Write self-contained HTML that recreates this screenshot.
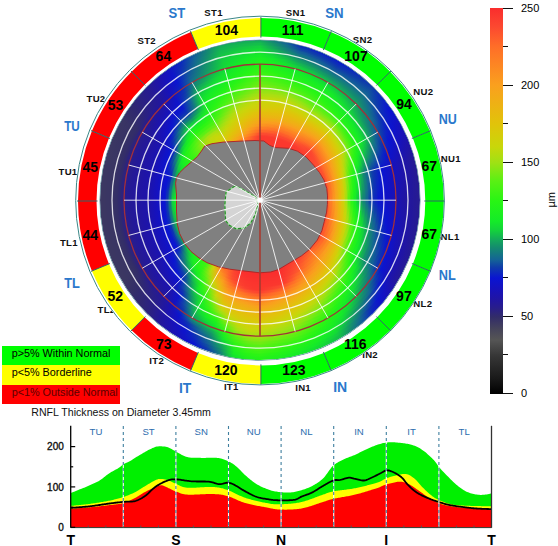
<!DOCTYPE html><html><head><meta charset="utf-8"><style>
.cs{font-size:9.6px;text-anchor:middle;fill:#2b6cae}
.ya{font-size:10px;text-anchor:end;fill:#111;stroke:#111;stroke-width:0.35}
.xa{font-size:14px;font-weight:bold;text-anchor:middle;fill:#000}

*{margin:0;padding:0;box-sizing:border-box}
html,body{width:558px;height:546px;background:#fff;overflow:hidden;position:relative;font-family:"Liberation Sans",sans-serif}
.d{position:absolute;border-radius:50%}
.ov{position:absolute;left:0;top:0}
text{font-family:"Liberation Sans",sans-serif}
.num{font-size:14px;font-weight:bold;text-anchor:middle;fill:#000}
.seg{font-size:9.6px;font-weight:bold;letter-spacing:0.3px;text-anchor:middle;fill:#111}
.sec{font-size:14px;font-weight:bold;text-anchor:middle;fill:#2a78cc}
.lg{position:absolute;left:2.4px;width:118px;font-size:10.8px;line-height:14.5px;padding-left:9.3px;color:#000}
.cb{position:absolute;left:490px;top:8px;width:13px;height:385.5px}
.tk{position:absolute;height:1px;background:#111}
.cl{position:absolute;left:521px;font-size:11px;line-height:11px;color:#000}
</style></head><body>
<div class="d" style="left:100.00px;top:40.20px;width:320.00px;height:320.00px;background:conic-gradient(#14ae57 0deg,#148575 5deg,#146297 10deg,#0d30b6 15deg,#0d2abc 20deg,#0c24c2 25deg,#0b1ec8 30deg,#0d28be 35deg,#0e33b3 40deg,#0f3fa8 45deg,#0c27bf 50deg,#0b14d0 55deg,#1213c3 60deg,#1913b4 65deg,#2015a4 70deg,#261b92 75deg,#261b92 80deg,#261b91 85deg,#261b91 90deg,#261b91 95deg,#261b92 100deg,#261b92 105deg,#251a93 110deg,#251a95 115deg,#241997 120deg,#1b13b0 125deg,#1113c6 130deg,#0c22c4 135deg,#135a9b 140deg,#148872 145deg,#14ba4e 150deg,#14cd40 155deg,#14db35 160deg,#14e72c 165deg,#17ed25 170deg,#1def1f 175deg,#22f21a 180deg,#1df01f 185deg,#14de33 190deg,#147783 195deg,#0e34b2 200deg,#0b14d1 205deg,#1512bd 210deg,#1d14ab 215deg,#251a96 220deg,#2d247c 225deg,#312a6e 230deg,#363166 235deg,#3c3862 240deg,#3c3862 245deg,#3c3862 250deg,#3c3862 255deg,#3c3862 260deg,#3c3862 265deg,#3c3862 270deg,#3c3862 275deg,#3c3862 280deg,#3c3862 285deg,#3b3762 290deg,#3a3663 295deg,#393564 300deg,#312b6b 305deg,#2c237f 310deg,#261b91 315deg,#1e14a9 320deg,#1213c3 325deg,#0c27bf 330deg,#13599b 335deg,#148278 340deg,#14ac59 345deg,#14ad58 350deg,#14ad57 355deg,#14ae57 360deg)"></div>
<div class="d" style="left:101.50px;top:41.70px;width:317.00px;height:317.00px;background:conic-gradient(#14b651 0deg,#148d6e 5deg,#146b8f 10deg,#0f39ad 15deg,#0e33b3 20deg,#0d2cba 25deg,#0c25c1 30deg,#0d2fb7 35deg,#0f39ad 40deg,#1045a6 45deg,#0d2abc 50deg,#0a14d1 55deg,#1213c4 60deg,#1813b6 65deg,#1f14a7 70deg,#251a95 75deg,#251a94 80deg,#251a94 85deg,#261b93 90deg,#251a93 95deg,#251a94 100deg,#251a95 105deg,#241997 110deg,#241999 115deg,#23189b 120deg,#1913b4 125deg,#0f13c9 130deg,#0c27bf 135deg,#146197 140deg,#148c6e 145deg,#14c049 150deg,#14d43a 155deg,#14e130 160deg,#15ec27 165deg,#1aee22 170deg,#20f11c 175deg,#25f317 180deg,#20f11c 185deg,#14e52d 190deg,#147e7c 195deg,#0f3bab 200deg,#0a17cf 205deg,#1412c0 210deg,#1c13ae 215deg,#241998 220deg,#2c237e 225deg,#302970 230deg,#353067 235deg,#3b3762 240deg,#3b3762 245deg,#3b3762 250deg,#3b3762 255deg,#3b3762 260deg,#3b3762 265deg,#3b3762 270deg,#3b3762 275deg,#3b3762 280deg,#3b3762 285deg,#3b3663 290deg,#3a3563 295deg,#393464 300deg,#312b6c 305deg,#2c2280 310deg,#261b91 315deg,#1d14ab 320deg,#1113c5 325deg,#0d2cba 330deg,#135f98 335deg,#148575 340deg,#14b055 345deg,#14b254 350deg,#14b452 355deg,#14b651 360deg)"></div>
<div class="d" style="left:103.00px;top:43.20px;width:314.00px;height:314.00px;background:conic-gradient(#14bf4a 0deg,#149568 5deg,#147288 10deg,#1046a5 15deg,#0f3caa 20deg,#0e34b2 25deg,#0d2db9 30deg,#0e36b0 35deg,#0f3fa8 40deg,#114ba2 45deg,#0d2eb8 50deg,#0a15d1 55deg,#1113c5 60deg,#1812b8 65deg,#1e14a9 70deg,#241998 75deg,#241997 80deg,#251a96 85deg,#251a95 90deg,#251a96 95deg,#241996 100deg,#241997 105deg,#23189a 110deg,#22179c 115deg,#22179e 120deg,#1812b7 125deg,#0e13cb 130deg,#0d2cba 135deg,#146793 140deg,#14926a 145deg,#14c645 150deg,#14d936 155deg,#14e82b 160deg,#18ed24 165deg,#1df01f 170deg,#22f21a 175deg,#28f514 180deg,#23f319 185deg,#15eb27 190deg,#148674 195deg,#1045a6 200deg,#0b1ec8 205deg,#1213c3 210deg,#1b13b0 215deg,#23189a 220deg,#2b2280 225deg,#302871 230deg,#352f67 235deg,#3b3762 240deg,#3b3762 245deg,#3b3762 250deg,#3b3762 255deg,#3b3762 260deg,#3b3762 265deg,#3b3762 270deg,#3b3762 275deg,#3b3762 280deg,#3b3762 285deg,#3a3663 290deg,#393563 295deg,#393464 300deg,#312a6d 305deg,#2b2281 310deg,#261b92 315deg,#1d13ac 320deg,#1013c6 325deg,#0d30b6 330deg,#146496 335deg,#148872 340deg,#14b452 345deg,#14b850 350deg,#14bb4d 355deg,#14bf4a 360deg)"></div>
<div class="d" style="left:104.50px;top:44.70px;width:311.00px;height:311.00px;background:conic-gradient(#14c744 0deg,#149d62 5deg,#147a80 10deg,#12539e 15deg,#1148a4 20deg,#0f3daa 25deg,#0e35b1 30deg,#0f3caa 35deg,#1047a5 40deg,#1251a0 45deg,#0e32b4 50deg,#0b1acc 55deg,#1013c8 60deg,#1712bb 65deg,#1d13ac 70deg,#23189b 75deg,#23189a 80deg,#241998 85deg,#241996 90deg,#241998 95deg,#241999 100deg,#23189a 105deg,#22179d 110deg,#2116a0 115deg,#2015a2 120deg,#1712ba 125deg,#0c14cf 130deg,#0e32b4 135deg,#146c8e 140deg,#149866 145deg,#14cd40 150deg,#14df32 155deg,#15ec27 160deg,#1bef21 165deg,#20f11c 170deg,#25f417 175deg,#2ef414 180deg,#26f416 185deg,#18ed24 190deg,#148e6d 195deg,#114fa0 200deg,#0c24c2 205deg,#1113c6 210deg,#1a13b3 215deg,#22179d 220deg,#2b2182 225deg,#2f2873 230deg,#342f67 235deg,#3b3662 240deg,#3b3662 245deg,#3b3662 250deg,#3b3662 255deg,#3b3662 260deg,#3b3662 265deg,#3b3662 270deg,#3b3662 275deg,#3b3662 280deg,#3b3662 285deg,#3a3563 290deg,#393464 295deg,#383364 300deg,#312a6e 305deg,#2b2281 310deg,#261b93 315deg,#1c13ad 320deg,#0f13c8 325deg,#0e34b2 330deg,#146892 335deg,#148c6e 340deg,#14b850 345deg,#14bd4c 350deg,#14c248 355deg,#14c744 360deg)"></div>
<div class="d" style="left:106.00px;top:46.20px;width:308.00px;height:308.00px;background:conic-gradient(#14d03e 0deg,#14a65d 5deg,#148278 10deg,#146198 15deg,#12559e 20deg,#1149a4 25deg,#0f3daa 30deg,#1045a5 35deg,#114ea1 40deg,#12579c 45deg,#0e37af 50deg,#0b1ec8 55deg,#0e13ca 60deg,#1512bd 65deg,#1c13ae 70deg,#22179e 75deg,#22179c 80deg,#23189a 85deg,#241998 90deg,#23189a 95deg,#23189b 100deg,#22179d 105deg,#2116a0 110deg,#2015a3 115deg,#1f14a6 120deg,#1512be 125deg,#0a16d0 130deg,#0f3caa 135deg,#147486 140deg,#14a160 145deg,#14d53a 150deg,#14e52d 155deg,#18ed24 160deg,#1ef01e 165deg,#23f319 170deg,#28f514 175deg,#35f414 180deg,#2bf514 185deg,#1aee22 190deg,#149667 195deg,#13599c 200deg,#0d2abc 205deg,#0f13c9 210deg,#1913b5 215deg,#21169f 220deg,#2a2084 225deg,#2f2775 230deg,#342e68 235deg,#3a3663 240deg,#3a3663 245deg,#3a3663 250deg,#3a3663 255deg,#3a3663 260deg,#3a3663 265deg,#3a3663 270deg,#3a3663 275deg,#3a3663 280deg,#3a3663 285deg,#393563 290deg,#393464 295deg,#383365 300deg,#30296f 305deg,#2b2182 310deg,#251a93 315deg,#1b13af 320deg,#0e13ca 325deg,#0f38ae 330deg,#146b8f 335deg,#14906c 340deg,#14bc4c 345deg,#14c348 350deg,#14c943 355deg,#14d03e 360deg)"></div>
<div class="d" style="left:107.50px;top:47.70px;width:305.00px;height:305.00px;background:conic-gradient(#14d639 0deg,#14af56 5deg,#148a70 10deg,#146b8f 15deg,#146297 20deg,#12559e 25deg,#1047a4 30deg,#114fa1 35deg,#12569d 40deg,#135d9a 45deg,#0f3bab 50deg,#0c23c3 55deg,#0d14cd 60deg,#1412c0 65deg,#1a13b1 70deg,#2116a1 75deg,#22179f 80deg,#22179c 85deg,#23189a 90deg,#22179c 95deg,#22179e 100deg,#2116a0 105deg,#2015a4 110deg,#1f14a7 115deg,#1e14a9 120deg,#1313c2 125deg,#0b1ec8 130deg,#114aa3 135deg,#147c7e 140deg,#14aa5a 145deg,#14db34 150deg,#14eb28 155deg,#1bee21 160deg,#21f11b 165deg,#26f416 170deg,#30f414 175deg,#3cf314 180deg,#32f414 185deg,#1df01f 190deg,#14a061 195deg,#146396 200deg,#0e30b6 205deg,#0e13cc 210deg,#1812b8 215deg,#2116a1 220deg,#2a1f87 225deg,#2e2677 230deg,#332d68 235deg,#3a3663 240deg,#3a3663 245deg,#3a3663 250deg,#3a3663 255deg,#3a3663 260deg,#3a3663 265deg,#3a3663 270deg,#3a3663 275deg,#3a3663 280deg,#3a3663 285deg,#393564 290deg,#383464 295deg,#373365 300deg,#302970 305deg,#2b2183 310deg,#251a94 315deg,#1b13b0 320deg,#0d13cc 325deg,#0f3daa 330deg,#146f8b 335deg,#149369 340deg,#14c04a 345deg,#14c844 350deg,#14d03e 355deg,#14d639 360deg)"></div>
<div class="d" style="left:109.00px;top:49.20px;width:302.00px;height:302.00px;background:conic-gradient(#14db35 0deg,#14b94f 5deg,#149468 10deg,#147684 15deg,#146c8e 20deg,#146197 25deg,#12529f 30deg,#12589c 35deg,#135d99 40deg,#146396 45deg,#1041a7 50deg,#0c27bf 55deg,#0b14cf 60deg,#1313c2 65deg,#1913b4 70deg,#2015a4 75deg,#2116a1 80deg,#22179e 85deg,#23189c 90deg,#22179e 95deg,#2116a1 100deg,#2015a4 105deg,#1f14a7 110deg,#1d14aa 115deg,#1c13ad 120deg,#1113c6 125deg,#0c26c0 130deg,#12579c 135deg,#148575 140deg,#14b552 145deg,#14e230 150deg,#17ec25 155deg,#1df01f 160deg,#24f318 165deg,#2af514 170deg,#37f414 175deg,#44f214 180deg,#3af314 185deg,#20f11c 190deg,#14a85b 195deg,#146a90 200deg,#0e36b0 205deg,#0c14ce 210deg,#1712bb 215deg,#2015a4 220deg,#291e89 225deg,#2e2578 230deg,#332d69 235deg,#3a3563 240deg,#3a3563 245deg,#3a3563 250deg,#3a3563 255deg,#3a3563 260deg,#3a3563 265deg,#3a3563 270deg,#3a3563 275deg,#3a3563 280deg,#3a3563 285deg,#393464 290deg,#383365 295deg,#373265 300deg,#302971 305deg,#2a2084 310deg,#251a95 315deg,#1a13b1 320deg,#0d14cd 325deg,#1043a6 330deg,#147288 335deg,#149766 340deg,#14c446 345deg,#14cd3f 350deg,#14d53a 355deg,#14db35 360deg)"></div>
<div class="d" style="left:110.50px;top:50.70px;width:299.00px;height:299.00px;background:conic-gradient(#14e031 0deg,#14c347 5deg,#149f61 10deg,#14807a 15deg,#147684 20deg,#146c8e 25deg,#146198 30deg,#146496 35deg,#146793 40deg,#146991 45deg,#1149a3 50deg,#0d2db9 55deg,#0a14d2 60deg,#1113c5 65deg,#1813b6 70deg,#1f14a7 75deg,#2015a4 80deg,#2116a1 85deg,#22179d 90deg,#2116a1 95deg,#2015a4 100deg,#1f14a7 105deg,#1d14ab 110deg,#1b13af 115deg,#1a13b2 120deg,#0e13cb 125deg,#0d30b6 130deg,#146595 135deg,#148d6d 140deg,#14bf4a 145deg,#14e82a 150deg,#19ee23 155deg,#20f11c 160deg,#27f415 165deg,#31f414 170deg,#3ef314 175deg,#4bf214 180deg,#41f214 185deg,#23f319 190deg,#14b94f 195deg,#14708a 200deg,#0f3ea9 205deg,#0a15d1 210deg,#1512be 215deg,#1f14a6 220deg,#281d8b 225deg,#2d247b 230deg,#322b6a 235deg,#383464 240deg,#383464 245deg,#383464 250deg,#383464 255deg,#383464 260deg,#383464 265deg,#383464 270deg,#383464 275deg,#383464 280deg,#383464 285deg,#383365 290deg,#373265 295deg,#363166 300deg,#2f2872 305deg,#2a2086 310deg,#251a96 315deg,#1a13b3 320deg,#0c14cf 325deg,#1048a4 330deg,#147585 335deg,#149a64 340deg,#14c744 345deg,#14d23c 350deg,#14d936 355deg,#14e031 360deg)"></div>
<div class="d" style="left:112.00px;top:52.20px;width:296.00px;height:296.00px;background:conic-gradient(#14e62c 0deg,#14ce3f 5deg,#14ab59 10deg,#148b6f 15deg,#148179 20deg,#147684 25deg,#146c8e 30deg,#146d8d 35deg,#146e8c 40deg,#146f8b 45deg,#12529f 50deg,#0e32b4 55deg,#0b18ce 60deg,#1013c7 65deg,#1712b9 70deg,#1e14aa 75deg,#1f14a6 80deg,#2015a3 85deg,#21169f 90deg,#2015a3 95deg,#1f14a7 100deg,#1d14aa 105deg,#1b13af 110deg,#1913b4 115deg,#1712b8 120deg,#0b14d0 125deg,#0f3aac 130deg,#146e8c 135deg,#149766 140deg,#14ca42 145deg,#15ec27 150deg,#1cef20 155deg,#23f219 160deg,#2cf514 165deg,#39f314 170deg,#46f214 175deg,#52f114 180deg,#49f214 185deg,#27f415 190deg,#14cb41 195deg,#147882 200deg,#114ba3 205deg,#0b1ec8 210deg,#1312c1 215deg,#1e14a8 220deg,#281d8d 225deg,#2c237d 230deg,#312a6d 235deg,#373265 240deg,#373265 245deg,#373265 250deg,#373265 255deg,#373265 260deg,#373265 265deg,#373265 270deg,#373265 275deg,#373265 280deg,#373265 285deg,#363166 290deg,#363166 295deg,#353067 300deg,#2f2775 305deg,#291f88 310deg,#241997 315deg,#1913b4 320deg,#0b14d1 325deg,#114da2 330deg,#147882 335deg,#149d62 340deg,#14ca42 345deg,#14d539 350deg,#14de33 355deg,#14e62c 360deg)"></div>
<div class="d" style="left:113.50px;top:53.70px;width:293.00px;height:293.00px;background:conic-gradient(#14eb28 0deg,#14d738 5deg,#14b850 10deg,#149866 15deg,#148b6f 20deg,#14807a 25deg,#147684 30deg,#147585 35deg,#147585 40deg,#147585 45deg,#135a9b 50deg,#0e37af 55deg,#0b1dc9 60deg,#0f13c9 65deg,#1612bc 70deg,#1d13ac 75deg,#1e14a9 80deg,#1f14a5 85deg,#2116a1 90deg,#1f14a5 95deg,#1e14a9 100deg,#1c13ad 105deg,#1a13b3 110deg,#1712b9 115deg,#1512be 120deg,#0b1acc 125deg,#1148a4 130deg,#147882 135deg,#14a25f 140deg,#14d43a 145deg,#17ed25 150deg,#1ff01d 155deg,#26f416 160deg,#35f414 165deg,#41f214 170deg,#4ef114 175deg,#5af014 180deg,#50f114 185deg,#2ef414 190deg,#14d936 195deg,#148179 200deg,#13589c 205deg,#0c27bf 210deg,#1213c4 215deg,#1d14aa 220deg,#271c8e 225deg,#2b2280 230deg,#302970 235deg,#363066 240deg,#363066 245deg,#363066 250deg,#363066 255deg,#363066 260deg,#363066 265deg,#363066 270deg,#363066 275deg,#363066 280deg,#363066 285deg,#353067 290deg,#352f67 295deg,#342f67 300deg,#2e2677 305deg,#291e8a 310deg,#241998 315deg,#1913b6 320deg,#0a14d2 325deg,#12529f 330deg,#147b7f 335deg,#14a060 340deg,#14cd40 345deg,#14d837 350deg,#14e22f 355deg,#14eb28 360deg)"></div>
<div class="d" style="left:115.00px;top:55.20px;width:290.00px;height:290.00px;background:conic-gradient(#17ec25 0deg,#14de33 5deg,#14c446 10deg,#14a45e 15deg,#149767 20deg,#148a70 25deg,#147f7b 30deg,#147e7c 35deg,#147c7e 40deg,#147b7f 45deg,#146496 50deg,#0f3ea9 55deg,#0c23c3 60deg,#0d13cc 65deg,#1512bf 70deg,#1b13af 75deg,#1d14ab 80deg,#1e14a7 85deg,#2015a3 90deg,#1e14a8 95deg,#1d13ac 100deg,#1b13b0 105deg,#1812b7 110deg,#1512bd 115deg,#1213c3 120deg,#0c24c2 125deg,#12589c 130deg,#148278 135deg,#14ae57 140deg,#14db35 145deg,#1aee22 150deg,#21f21b 155deg,#2bf514 160deg,#3ef314 165deg,#4af214 170deg,#55f014 175deg,#65ee14 180deg,#59f014 185deg,#37f314 190deg,#14e42e 195deg,#148a70 200deg,#146595 205deg,#0d2fb7 210deg,#1013c7 215deg,#1d13ac 220deg,#271c90 225deg,#2b2182 230deg,#2f2873 235deg,#342f67 240deg,#342f67 245deg,#342f67 250deg,#342f67 255deg,#342f67 260deg,#342f67 265deg,#342f67 270deg,#342f67 275deg,#342f67 280deg,#342f67 285deg,#342e68 290deg,#342e68 295deg,#332e68 300deg,#2e2579 305deg,#281d8b 310deg,#23189a 315deg,#1812b7 320deg,#0a17cf 325deg,#12569d 330deg,#147d7d 335deg,#14a35f 340deg,#14d03e 345deg,#14dc34 350deg,#14e72b 355deg,#17ec25 360deg)"></div>
<div class="d" style="left:116.50px;top:56.70px;width:287.00px;height:287.00px;background:conic-gradient(#19ee23 0deg,#14e52d 5deg,#14d03d 10deg,#14b055 15deg,#14a35f 20deg,#149668 25deg,#148971 30deg,#148674 35deg,#148476 40deg,#148179 45deg,#146a90 50deg,#1148a4 55deg,#0d2abc 60deg,#0b14d0 65deg,#1313c2 70deg,#1a13b2 75deg,#1c13ae 80deg,#1d14aa 85deg,#1f14a6 90deg,#1d14aa 95deg,#1b13af 100deg,#1a13b3 105deg,#1612bb 110deg,#1313c2 115deg,#0f13c8 120deg,#0d2fb7 125deg,#146694 130deg,#148c6e 135deg,#14ba4e 140deg,#14e22f 145deg,#1cef20 150deg,#24f318 155deg,#32f414 160deg,#46f214 165deg,#52f114 170deg,#5fef14 175deg,#71eb14 180deg,#66ed14 185deg,#41f214 190deg,#16ec26 195deg,#149568 200deg,#146e8c 205deg,#0e38ae 210deg,#0f13c9 215deg,#1c13ae 220deg,#261b92 225deg,#2a2085 230deg,#2e2676 235deg,#332d68 240deg,#332d68 245deg,#332d68 250deg,#332d68 255deg,#332d68 260deg,#332d68 265deg,#332d68 270deg,#332d68 275deg,#332d68 280deg,#332d68 285deg,#332d69 290deg,#332d69 295deg,#322d69 300deg,#2d247b 305deg,#281d8d 310deg,#23189b 315deg,#1712b9 320deg,#0b1acc 325deg,#135b9a 330deg,#14807a 335deg,#14a65d 340deg,#14d23c 345deg,#14df32 350deg,#14eb28 355deg,#19ee23 360deg)"></div>
<div class="d" style="left:118.00px;top:58.20px;width:284.00px;height:284.00px;background:conic-gradient(#1bef21 0deg,#14eb28 5deg,#14d837 10deg,#14bd4b 15deg,#14af56 20deg,#14a160 25deg,#149468 30deg,#14906c 35deg,#148b6f 40deg,#148773 45deg,#14708a 50deg,#12529f 55deg,#0e32b4 60deg,#0a17cf 65deg,#1113c5 70deg,#1913b5 75deg,#1b13b1 80deg,#1c13ad 85deg,#1e14a9 90deg,#1c13ad 95deg,#1a13b2 100deg,#1812b7 105deg,#1412bf 110deg,#1013c6 115deg,#0c14ce 120deg,#0f38ae 125deg,#146e8c 130deg,#149667 135deg,#14c546 140deg,#14e92a 145deg,#1ef01e 150deg,#27f415 155deg,#3af314 160deg,#4ff114 165deg,#5af014 170deg,#6bec14 175deg,#7ce914 180deg,#74ea14 185deg,#4cf114 190deg,#1aee22 195deg,#14a160 200deg,#147981 205deg,#114ca2 210deg,#0c14ce 215deg,#1b13b0 220deg,#251a93 225deg,#291f88 230deg,#2d247b 235deg,#312a6d 240deg,#312a6d 245deg,#312a6d 250deg,#312a6d 255deg,#312a6d 260deg,#312a6d 265deg,#312a6d 270deg,#312a6d 275deg,#312a6d 280deg,#312a6d 285deg,#312a6d 290deg,#312a6d 295deg,#312a6d 300deg,#2c237f 305deg,#271c8f 310deg,#22179c 315deg,#1712ba 320deg,#0b1dc9 325deg,#146098 330deg,#148377 335deg,#14a95b 340deg,#14d43a 345deg,#14e22f 350deg,#16ec26 355deg,#1bef21 360deg)"></div>
<div class="d" style="left:119.50px;top:59.70px;width:281.00px;height:281.00px;background:conic-gradient(#1ef01e 0deg,#17ec25 5deg,#14e031 10deg,#14ca42 15deg,#14bc4d 20deg,#14ad57 25deg,#14a061 30deg,#149a65 35deg,#149469 40deg,#148d6d 45deg,#147684 50deg,#135c9a 55deg,#0f39ad 60deg,#0b1dc9 65deg,#1013c8 70deg,#1812b8 75deg,#1913b4 80deg,#1b13af 85deg,#1d14ab 90deg,#1b13b1 95deg,#1813b6 100deg,#1612bc 105deg,#1213c3 110deg,#0e13cb 115deg,#0a16d0 120deg,#1043a6 125deg,#147684 130deg,#14a061 135deg,#14cf3e 140deg,#15ec27 145deg,#21f11b 150deg,#2cf514 155deg,#42f214 160deg,#58f014 165deg,#67ed14 170deg,#77ea14 175deg,#87e614 180deg,#82e714 185deg,#56f014 190deg,#1ef01e 195deg,#14ad58 200deg,#148872 205deg,#146892 210deg,#0a17cf 215deg,#1a13b2 220deg,#251a95 225deg,#281d8d 230deg,#2b2182 235deg,#2e2676 240deg,#2e2676 245deg,#2e2676 250deg,#2e2676 255deg,#2e2676 260deg,#2e2676 265deg,#2e2676 270deg,#2e2676 275deg,#2e2676 280deg,#2e2676 285deg,#2e2676 290deg,#2e2676 295deg,#2e2676 300deg,#2a2085 305deg,#261b93 310deg,#22179e 315deg,#1612bc 320deg,#0c20c6 325deg,#146595 330deg,#148674 335deg,#14ac58 340deg,#14d639 345deg,#14e62c 350deg,#18ed24 355deg,#1ef01e 360deg)"></div>
<div class="d" style="left:121.00px;top:61.20px;width:278.00px;height:278.00px;background:conic-gradient(#20f11c 0deg,#19ee23 5deg,#14e72b 10deg,#14d539 15deg,#14c942 20deg,#14bb4d 25deg,#14ad58 30deg,#14a55d 35deg,#149d63 40deg,#149568 45deg,#147c7e 50deg,#146595 55deg,#1042a7 60deg,#0c24c2 65deg,#0e13cb 70deg,#1612bb 75deg,#1812b7 80deg,#1a13b2 85deg,#1c13ae 90deg,#1913b4 95deg,#1712ba 100deg,#1412c0 105deg,#1013c8 110deg,#0b14d0 115deg,#0b1fc7 120deg,#1250a0 125deg,#147e7c 130deg,#14a85b 135deg,#14d738 140deg,#18ed24 145deg,#23f219 150deg,#32f414 155deg,#49f214 160deg,#63ee14 165deg,#73eb14 170deg,#83e714 175deg,#93e414 180deg,#90e414 185deg,#64ee14 190deg,#23f319 195deg,#14bf4a 200deg,#149b64 205deg,#147c7e 210deg,#0c23c3 215deg,#1913b5 220deg,#241998 225deg,#261b91 230deg,#291e89 235deg,#2c237f 240deg,#2c237f 245deg,#2c237f 250deg,#2c237f 255deg,#2c237f 260deg,#2c237f 265deg,#2c237f 270deg,#2c237f 275deg,#2c237f 280deg,#2c237f 285deg,#2c237f 290deg,#2c237f 295deg,#2c237f 300deg,#281d8d 305deg,#241997 310deg,#2015a2 315deg,#1512be 320deg,#0c25c1 325deg,#146c8e 330deg,#148b6f 335deg,#14b155 340deg,#14d837 345deg,#14e92a 350deg,#1aee22 355deg,#20f11c 360deg)"></div>
<div class="d" style="left:122.50px;top:62.70px;width:275.00px;height:275.00px;background:conic-gradient(#22f21a 0deg,#1cef20 5deg,#15ec27 10deg,#14de33 15deg,#14d53a 20deg,#14c943 25deg,#14bb4d 30deg,#14b055 35deg,#14a65d 40deg,#149c63 45deg,#148377 50deg,#146c8e 55deg,#114ca2 60deg,#0d2abc 65deg,#0c14ce 70deg,#1512be 75deg,#1712b9 80deg,#1913b5 85deg,#1b13b0 90deg,#1812b7 95deg,#1512be 100deg,#1213c3 105deg,#0d13cc 110deg,#0b19cd 115deg,#0d28be 120deg,#135d99 125deg,#148575 130deg,#14b254 135deg,#14dd33 140deg,#1aee22 145deg,#25f417 150deg,#39f314 155deg,#50f114 160deg,#6eec14 165deg,#7ee814 170deg,#8ee514 175deg,#9ee114 180deg,#9ee114 185deg,#75ea14 190deg,#29f514 195deg,#14d13d 200deg,#14ae57 205deg,#148e6d 210deg,#0d2eb8 215deg,#1712b9 220deg,#23189b 225deg,#251a95 230deg,#271c8f 235deg,#291f88 240deg,#291f88 245deg,#291f88 250deg,#291f88 255deg,#291f88 260deg,#291f88 265deg,#291f88 270deg,#291f88 275deg,#291f88 280deg,#291f88 285deg,#291f88 290deg,#291f88 295deg,#291f88 300deg,#261b92 305deg,#22179c 310deg,#1f14a6 315deg,#1412bf 320deg,#0d29bd 325deg,#147288 330deg,#14916b 335deg,#14b651 340deg,#14d936 345deg,#14eb28 350deg,#1bef21 355deg,#22f21a 360deg)"></div>
<div class="d" style="left:124.00px;top:64.20px;width:272.00px;height:272.00px;background:conic-gradient(#25f317 0deg,#1ef01e 5deg,#18ed24 10deg,#14e62c 15deg,#14dd33 20deg,#14d53a 25deg,#14ca42 30deg,#14bd4c 35deg,#14b056 40deg,#14a45e 45deg,#148971 50deg,#147288 55deg,#12569d 60deg,#0e30b6 65deg,#0b14d1 70deg,#1412c0 75deg,#1612bc 80deg,#1812b7 85deg,#1a13b3 90deg,#1712ba 95deg,#1312c1 100deg,#1013c7 105deg,#0b14d0 110deg,#0c21c5 115deg,#0e32b4 120deg,#146892 125deg,#148d6d 130deg,#14bc4c 135deg,#14e32e 140deg,#1cef20 145deg,#28f514 150deg,#3ff314 155deg,#56f014 160deg,#78ea14 165deg,#89e614 170deg,#99e214 175deg,#a7df12 180deg,#a8df12 185deg,#85e714 190deg,#35f414 195deg,#14dd34 200deg,#14bc4c 205deg,#149766 210deg,#0e35b1 215deg,#1612bc 220deg,#22179e 225deg,#241998 230deg,#261b93 235deg,#271c8e 240deg,#271c8d 245deg,#281d8d 250deg,#281d8d 255deg,#281d8d 260deg,#281d8d 265deg,#281d8d 270deg,#281d8d 275deg,#281d8d 280deg,#281d8d 285deg,#281d8d 290deg,#281d8d 295deg,#281d8d 300deg,#241997 305deg,#2116a0 310deg,#1e14a9 315deg,#1312c1 320deg,#0d2db9 325deg,#147981 330deg,#149866 335deg,#14bc4c 340deg,#14dc34 345deg,#16ec26 350deg,#1df01f 355deg,#25f317 360deg)"></div>
<div class="d" style="left:125.50px;top:65.70px;width:269.00px;height:269.00px;background:conic-gradient(#27f415 0deg,#21f11b 5deg,#1bef21 10deg,#15ec27 15deg,#14e62c 20deg,#14de33 25deg,#14d639 30deg,#14c943 35deg,#14ba4e 40deg,#14ab59 45deg,#14906b 50deg,#147882 55deg,#146098 60deg,#0e37af 65deg,#0a18ce 70deg,#1213c3 75deg,#1412bf 80deg,#1712ba 85deg,#1913b5 90deg,#1512bd 95deg,#1113c4 100deg,#0e13cb 105deg,#0b19cd 110deg,#0d2abc 115deg,#0f3bab 120deg,#14708a 125deg,#149767 130deg,#14c744 135deg,#14ea28 140deg,#1ff11d 145deg,#2ff414 150deg,#46f214 155deg,#5fef14 160deg,#82e714 165deg,#93e414 170deg,#a3e013 175deg,#aedd10 180deg,#b2dd10 185deg,#96e314 190deg,#42f214 195deg,#14e82a 200deg,#14cb42 205deg,#14a160 210deg,#0f3caa 215deg,#1412bf 220deg,#2116a1 225deg,#23189b 230deg,#241996 235deg,#261b91 240deg,#261b90 245deg,#271c90 250deg,#271c90 255deg,#271c90 260deg,#271c90 265deg,#271c90 270deg,#271c90 275deg,#271c90 280deg,#271c90 285deg,#271c90 290deg,#271c90 295deg,#271c90 300deg,#23189a 305deg,#2015a4 310deg,#1c13ac 315deg,#1213c3 320deg,#0e32b4 325deg,#147f7b 330deg,#149f61 335deg,#14c347 340deg,#14e130 345deg,#18ed24 350deg,#1ff11d 355deg,#27f415 360deg)"></div>
<div class="d" style="left:127.00px;top:67.20px;width:266.00px;height:266.00px;background:conic-gradient(#2bf514 0deg,#23f319 5deg,#1ef01e 10deg,#18ed24 15deg,#15ec27 20deg,#14e62c 25deg,#14de32 30deg,#14d43a 35deg,#14c446 40deg,#14b453 45deg,#149766 50deg,#147f7b 55deg,#146892 60deg,#0f3ea9 65deg,#0b1dc9 70deg,#1113c6 75deg,#1312c1 80deg,#1512bd 85deg,#1812b8 90deg,#1412c0 95deg,#1013c8 100deg,#0c14cf 105deg,#0c21c5 110deg,#0e33b3 115deg,#1148a4 120deg,#147981 125deg,#14a25f 130deg,#14d33b 135deg,#17ed25 140deg,#23f219 145deg,#38f314 150deg,#4ff114 155deg,#6bec14 160deg,#8ce514 165deg,#9ee214 170deg,#aade11 175deg,#b6dc0e 180deg,#bbda0d 185deg,#a5e013 190deg,#4ff114 195deg,#17ec25 200deg,#14d639 205deg,#14ab59 210deg,#1046a5 215deg,#1313c2 220deg,#2015a4 225deg,#22179e 230deg,#231899 235deg,#251a94 240deg,#251a93 245deg,#261b93 250deg,#261b92 255deg,#261b92 260deg,#261b92 265deg,#261b92 270deg,#261b92 275deg,#261b92 280deg,#261b92 285deg,#261b92 290deg,#261b92 295deg,#261b92 300deg,#22179c 305deg,#1f14a7 310deg,#1b13b0 315deg,#1113c5 320deg,#0e36b0 325deg,#148674 330deg,#14a65d 335deg,#14cb41 340deg,#14e52d 345deg,#1aee22 350deg,#21f21b 355deg,#2bf514 360deg)"></div>
<div class="d" style="left:128.50px;top:68.70px;width:263.00px;height:263.00px;background:conic-gradient(#31f414 0deg,#26f416 5deg,#21f11b 10deg,#1bef21 15deg,#18ed24 20deg,#15ec27 25deg,#14e72b 30deg,#14dc34 35deg,#14cf3e 40deg,#14bc4c 45deg,#14a060 50deg,#148773 55deg,#147288 60deg,#114ba3 65deg,#0c24c2 70deg,#0f13c8 75deg,#1213c4 80deg,#1412c0 85deg,#1612bb 90deg,#1213c3 95deg,#0e13cb 100deg,#0a16d0 105deg,#0d29bd 110deg,#0f3bab 115deg,#12559d 120deg,#148179 125deg,#14ae57 130deg,#14dc34 135deg,#1aee22 140deg,#26f416 145deg,#41f214 150deg,#57f014 155deg,#76ea14 160deg,#96e314 165deg,#a6e013 170deg,#b2dd10 175deg,#beda0d 180deg,#c3d80b 185deg,#aede11 190deg,#5cf014 195deg,#1bef21 200deg,#14df31 205deg,#14b651 210deg,#1250a0 215deg,#1113c5 220deg,#1f14a6 225deg,#2116a1 230deg,#22179c 235deg,#241997 240deg,#241996 245deg,#251a95 250deg,#251a94 255deg,#251a94 260deg,#251a94 265deg,#251a94 270deg,#251a94 275deg,#251a94 280deg,#251a94 285deg,#251a94 290deg,#251a94 295deg,#251a94 300deg,#21169f 305deg,#1d14aa 310deg,#1a13b3 315deg,#1013c7 320deg,#0f3bab 325deg,#148e6c 330deg,#14af56 335deg,#14d33c 340deg,#14e92a 345deg,#1bef21 350deg,#23f319 355deg,#31f414 360deg)"></div>
<div class="d" style="left:130.00px;top:70.20px;width:260.00px;height:260.00px;background:conic-gradient(#36f414 0deg,#29f514 5deg,#23f319 10deg,#1ef01e 15deg,#1bef21 20deg,#19ed23 25deg,#16ec26 30deg,#14e32e 35deg,#14d639 40deg,#14c446 45deg,#14aa5a 50deg,#14916a 55deg,#147c7e 60deg,#13589c 65deg,#0d2cba 70deg,#0e13cb 75deg,#1013c7 80deg,#1213c2 85deg,#1512be 90deg,#1013c7 95deg,#0c14cf 100deg,#0b1ec8 105deg,#0e31b5 110deg,#1047a5 115deg,#146197 120deg,#148a70 125deg,#14ba4e 130deg,#14e42e 135deg,#1df01f 140deg,#2cf514 145deg,#4af214 150deg,#61ee14 155deg,#81e814 160deg,#a0e114 165deg,#adde11 170deg,#b9db0e 175deg,#c5d80b 180deg,#c9d60a 185deg,#b6dc0f 190deg,#6feb14 195deg,#20f11c 200deg,#14ea29 205deg,#14c149 210deg,#135a9b 215deg,#1013c7 220deg,#1e14a9 225deg,#2015a4 230deg,#21169f 235deg,#23189a 240deg,#241999 245deg,#241998 250deg,#241997 255deg,#241997 260deg,#241997 265deg,#241997 270deg,#241997 275deg,#241997 280deg,#241997 285deg,#241997 290deg,#241997 295deg,#241997 300deg,#2015a2 305deg,#1c13ad 310deg,#1812b7 315deg,#0f13c9 320deg,#1042a7 325deg,#149966 330deg,#14b94f 335deg,#14d837 340deg,#15eb27 345deg,#1df01f 350deg,#25f417 355deg,#36f414 360deg)"></div>
<div class="d" style="left:131.50px;top:71.70px;width:257.00px;height:257.00px;background:conic-gradient(#3cf314 0deg,#30f414 5deg,#26f416 10deg,#21f21b 15deg,#1ef01e 20deg,#1cef20 25deg,#19ee23 30deg,#14eb28 35deg,#14dd33 40deg,#14ce3f 45deg,#14b452 50deg,#149d63 55deg,#148773 60deg,#146595 65deg,#0e33b3 70deg,#0c14ce 75deg,#0f13c9 80deg,#1113c5 85deg,#1312c1 90deg,#0e13ca 95deg,#0a15d1 100deg,#0c25c1 105deg,#0f38ae 110deg,#12519f 115deg,#146991 120deg,#149369 125deg,#14c645 130deg,#15eb27 135deg,#21f11b 140deg,#34f414 145deg,#53f114 150deg,#6eec14 155deg,#8ce514 160deg,#a7df12 165deg,#b4dc0f 170deg,#c0d90c 175deg,#cad50a 180deg,#ccd40a 185deg,#bed90c 190deg,#82e714 195deg,#27f415 200deg,#18ed24 205deg,#14cb41 210deg,#146496 215deg,#0e13cb 220deg,#1d14ab 225deg,#1f14a7 230deg,#2116a2 235deg,#22179c 240deg,#23189b 245deg,#23189a 250deg,#241899 255deg,#241899 260deg,#241899 265deg,#241899 270deg,#241899 275deg,#241899 280deg,#241899 285deg,#241899 290deg,#241899 295deg,#241899 300deg,#1f14a6 305deg,#1b13b1 310deg,#1612bb 315deg,#0e13cb 320deg,#114aa3 325deg,#14a35f 330deg,#14c348 335deg,#14dd33 340deg,#16ec26 345deg,#1ff01d 350deg,#27f515 355deg,#3cf314 360deg)"></div>
<div class="d" style="left:133.00px;top:73.20px;width:254.00px;height:254.00px;background:conic-gradient(#42f214 0deg,#36f414 5deg,#2af514 10deg,#24f318 15deg,#21f21b 20deg,#1ef01e 25deg,#1cef20 30deg,#17ec25 35deg,#14e52d 40deg,#14d738 45deg,#14c248 50deg,#14a95b 55deg,#149369 60deg,#146e8c 65deg,#0f3bab 70deg,#0b14d1 75deg,#0d13cc 80deg,#0f13c8 85deg,#1213c4 90deg,#0d14cd 95deg,#0b1cca 100deg,#0d2db9 105deg,#1041a7 110deg,#135c9a 115deg,#14708a 120deg,#149c63 125deg,#14d23c 130deg,#18ed24 135deg,#24f318 140deg,#3df314 145deg,#5def14 150deg,#7ae914 155deg,#97e314 160deg,#aedd10 165deg,#bbda0d 170deg,#c8d70a 175deg,#cdd30a 180deg,#cfd20a 185deg,#c7d70a 190deg,#95e314 195deg,#35f414 200deg,#1cef20 205deg,#14d53a 210deg,#146d8d 215deg,#0b14cf 220deg,#1c13ae 225deg,#1e14a9 230deg,#2015a4 235deg,#22179e 240deg,#22179d 245deg,#22179c 250deg,#23189b 255deg,#23189b 260deg,#23189b 265deg,#23189b 270deg,#23189b 275deg,#23189b 280deg,#23189b 285deg,#23189b 290deg,#23189b 295deg,#23189b 300deg,#1e14a9 305deg,#1913b4 310deg,#1412bf 315deg,#0d14cd 320deg,#12519f 325deg,#14ad58 330deg,#14cc40 335deg,#14e22f 340deg,#18ed24 345deg,#21f11b 350deg,#2cf514 355deg,#42f214 360deg)"></div>
<div class="d" style="left:134.50px;top:74.70px;width:251.00px;height:251.00px;background:conic-gradient(#48f214 0deg,#3cf314 5deg,#31f414 10deg,#27f415 15deg,#24f318 20deg,#21f21b 25deg,#1ef01e 30deg,#1aee22 35deg,#15eb27 40deg,#14e031 45deg,#14cf3e 50deg,#14b750 55deg,#14a061 60deg,#147783 65deg,#1045a5 70deg,#0a18ce 75deg,#0b14cf 80deg,#0e13cb 85deg,#1013c6 90deg,#0b14d0 95deg,#0c23c3 100deg,#0e34b2 105deg,#114ca2 110deg,#146694 115deg,#147783 120deg,#14a65d 125deg,#14d936 130deg,#1bee21 135deg,#27f515 140deg,#45f214 145deg,#6aed14 150deg,#87e614 155deg,#a2e013 160deg,#b6dc0f 165deg,#c2d80b 170deg,#cbd50a 175deg,#d0d00a 180deg,#d1cf0a 185deg,#cbd50a 190deg,#a5e013 195deg,#45f214 200deg,#21f11b 205deg,#14db34 210deg,#147684 215deg,#0a18ce 220deg,#1b13b0 225deg,#1d14ab 230deg,#1f14a6 235deg,#2116a1 240deg,#2116a0 245deg,#22179f 250deg,#22179e 255deg,#22179e 260deg,#22179e 265deg,#22179e 270deg,#22179e 275deg,#22179e 280deg,#22179e 285deg,#22179e 290deg,#22179e 295deg,#22179e 300deg,#1d14ab 305deg,#1812b8 310deg,#1213c3 315deg,#0c14cf 320deg,#13589c 325deg,#14b84f 330deg,#14d53a 335deg,#14e72b 340deg,#19ee23 345deg,#22f21a 350deg,#31f414 355deg,#48f214 360deg)"></div>
<div class="d" style="left:136.00px;top:76.20px;width:248.00px;height:248.00px;background:conic-gradient(#4ef114 0deg,#43f214 5deg,#38f314 10deg,#2df514 15deg,#27f415 20deg,#24f318 25deg,#21f21b 30deg,#1cef20 35deg,#18ed24 40deg,#14e82b 45deg,#14d937 50deg,#14c546 55deg,#14ad58 60deg,#14807a 65deg,#1251a0 70deg,#0b1ec8 75deg,#0a15d1 80deg,#0c14ce 85deg,#0f13c9 90deg,#0a16d0 95deg,#0d29bd 100deg,#0f3caa 105deg,#12579d 110deg,#146d8d 115deg,#147d7d 120deg,#14b056 125deg,#14e130 130deg,#1ef01e 135deg,#2ef414 140deg,#4ef114 145deg,#78ea14 150deg,#94e414 155deg,#abde11 160deg,#bfd90c 165deg,#cad60a 170deg,#cfd20a 175deg,#d4cd0a 180deg,#d5cd0a 185deg,#cfd20a 190deg,#b2dd10 195deg,#54f114 200deg,#25f417 205deg,#14e230 210deg,#147f7b 215deg,#0c21c5 220deg,#1a13b3 225deg,#1c13ae 230deg,#1e14a8 235deg,#2015a3 240deg,#2015a2 245deg,#2116a1 250deg,#2116a0 255deg,#21169f 260deg,#21169f 265deg,#21169f 270deg,#21169f 275deg,#21169f 280deg,#2116a0 285deg,#2116a0 290deg,#2116a0 295deg,#2116a1 300deg,#1b13af 305deg,#1612bc 310deg,#1013c7 315deg,#0b14d1 320deg,#135f98 325deg,#14c248 330deg,#14db35 335deg,#15eb27 340deg,#1cef20 345deg,#25f317 350deg,#37f414 355deg,#4ef114 360deg)"></div>
<div class="d" style="left:137.50px;top:77.70px;width:245.00px;height:245.00px;background:conic-gradient(#53f114 0deg,#49f214 5deg,#3ff314 10deg,#34f414 15deg,#2df514 20deg,#27f415 25deg,#24f318 30deg,#1ff11d 35deg,#1aee22 40deg,#16ec26 45deg,#14e130 50deg,#14d23c 55deg,#14bb4d 60deg,#148872 65deg,#135c9a 70deg,#0c24c2 75deg,#0b1bcb 80deg,#0b14d1 85deg,#0d13cc 90deg,#0b1cca 95deg,#0d30b6 100deg,#1047a5 105deg,#146297 110deg,#147387 115deg,#148476 120deg,#14ba4e 125deg,#14e92a 130deg,#21f21b 135deg,#37f414 140deg,#57f014 145deg,#85e714 150deg,#a1e114 155deg,#b5dc0f 160deg,#c8d70a 165deg,#ced30a 170deg,#d3ce0a 175deg,#d9ca0a 180deg,#d8ca0a 185deg,#d2cf0a 190deg,#bfd90c 195deg,#6aed14 200deg,#2cf514 205deg,#14e82a 210deg,#148872 215deg,#0d2abc 220deg,#1913b6 225deg,#1b13b0 230deg,#1d14ab 235deg,#1f14a5 240deg,#2015a4 245deg,#2015a3 250deg,#2016a2 255deg,#2116a1 260deg,#2116a1 265deg,#2116a1 270deg,#2116a1 275deg,#2116a1 280deg,#2016a2 285deg,#2015a2 290deg,#2015a3 295deg,#2015a4 300deg,#1a13b2 305deg,#1412bf 310deg,#0e13ca 315deg,#0a16d0 320deg,#146595 325deg,#14cb41 330deg,#14e130 335deg,#17ed25 340deg,#1ef01e 345deg,#27f515 350deg,#3df314 355deg,#53f114 360deg)"></div>
<div class="d" style="left:139.00px;top:79.20px;width:242.00px;height:242.00px;background:conic-gradient(#59f014 0deg,#4ff114 5deg,#45f214 10deg,#3cf314 15deg,#34f414 20deg,#2cf514 25deg,#26f416 30deg,#22f21a 35deg,#1df01f 40deg,#19ed23 45deg,#14e929 50deg,#14db35 55deg,#14c943 60deg,#14926a 65deg,#146694 70deg,#0d2abc 75deg,#0c21c5 80deg,#0a17cf 85deg,#0c14ce 90deg,#0c23c3 95deg,#0e38ae 100deg,#12549e 105deg,#146a90 110deg,#147a80 115deg,#148b6f 120deg,#14c744 125deg,#17ed25 130deg,#26f416 135deg,#42f214 140deg,#64ee14 145deg,#92e414 150deg,#aade11 155deg,#beda0d 160deg,#ccd40a 165deg,#d2cf0a 170deg,#d7cb0a 175deg,#ddc60a 180deg,#dbc80a 185deg,#d6cc0a 190deg,#c9d60a 195deg,#82e714 200deg,#37f414 205deg,#15ec27 210deg,#14916b 215deg,#0e34b2 220deg,#1612bb 225deg,#1913b4 230deg,#1c13ae 235deg,#1f14a7 240deg,#1f14a6 245deg,#1f14a5 250deg,#2015a4 255deg,#2015a3 260deg,#2015a3 265deg,#2015a2 270deg,#2015a3 275deg,#2015a3 280deg,#2015a4 285deg,#1f14a5 290deg,#1f14a6 295deg,#1f14a7 300deg,#1913b5 305deg,#1313c2 310deg,#0c14ce 315deg,#0b1acc 320deg,#146991 325deg,#14d33b 330deg,#14e72c 335deg,#1aee22 340deg,#21f11b 345deg,#2cf514 350deg,#43f214 355deg,#59f014 360deg)"></div>
<div class="d" style="left:140.50px;top:80.70px;width:239.00px;height:239.00px;background:conic-gradient(#61ee14 0deg,#56f014 5deg,#4cf114 10deg,#43f214 15deg,#3bf314 20deg,#33f414 25deg,#2bf514 30deg,#25f317 35deg,#20f11c 40deg,#1cef20 45deg,#17ec25 50deg,#14e42d 55deg,#14d738 60deg,#149e62 65deg,#146e8c 70deg,#0e31b5 75deg,#0c27bf 80deg,#0b1ec8 85deg,#0a14d2 90deg,#0d2abc 95deg,#1043a6 100deg,#146297 105deg,#147486 110deg,#148575 115deg,#149866 120deg,#14d639 125deg,#1bef21 130deg,#2ff414 135deg,#4cf114 140deg,#72eb14 145deg,#9fe114 150deg,#b3dc0f 155deg,#c7d70a 160deg,#d0d10a 165deg,#d6cc0a 170deg,#dbc70a 175deg,#e1c30a 180deg,#dfc50a 185deg,#d9c90a 190deg,#cfd20a 195deg,#9ae214 200deg,#42f214 205deg,#17ed25 210deg,#149d63 215deg,#1040a8 220deg,#1412c0 225deg,#1712b9 230deg,#1b13b1 235deg,#1e14a9 240deg,#1e14a8 245deg,#1f14a7 250deg,#1f14a6 255deg,#1f14a5 260deg,#2015a4 265deg,#2015a4 270deg,#2015a4 275deg,#1f14a5 280deg,#1f14a6 285deg,#1f14a7 290deg,#1e14a8 295deg,#1e14a9 300deg,#1712b9 305deg,#1013c6 310deg,#0a17cf 315deg,#0c20c6 320deg,#146e8c 325deg,#14d837 330deg,#15eb27 335deg,#1cef20 340deg,#24f318 345deg,#33f414 350deg,#49f214 355deg,#61ee14 360deg)"></div>
<div class="d" style="left:142.00px;top:82.20px;width:236.00px;height:236.00px;background:conic-gradient(#6aed14 0deg,#5def14 5deg,#54f114 10deg,#4bf114 15deg,#43f214 20deg,#3af314 25deg,#31f414 30deg,#27f515 35deg,#23f319 40deg,#1ff01d 45deg,#1aee22 50deg,#15ec27 55deg,#14e130 60deg,#14ab5a 65deg,#147684 70deg,#0e37af 75deg,#0d2db9 80deg,#0c24c2 85deg,#0b1bcb 90deg,#0e33b3 95deg,#1250a0 100deg,#146c8e 105deg,#147e7c 110deg,#14916a 115deg,#14a75c 120deg,#14e130 125deg,#20f11c 130deg,#3bf314 135deg,#57f014 140deg,#81e814 145deg,#a8df12 150deg,#bcda0d 155deg,#cbd40a 160deg,#d4ce0a 165deg,#dac90a 170deg,#e0c40a 175deg,#e4bf0c 180deg,#e2c20b 185deg,#ddc70a 190deg,#d4cd0a 195deg,#adde11 200deg,#4cf114 205deg,#1aee22 210deg,#14a85b 215deg,#1251a0 220deg,#1113c5 225deg,#1512bd 230deg,#1913b4 235deg,#1d14ab 240deg,#1d14aa 245deg,#1e14a9 250deg,#1e14a7 255deg,#1f14a7 260deg,#1f14a6 265deg,#1f14a5 270deg,#1f14a6 275deg,#1f14a7 280deg,#1e14a7 285deg,#1e14a9 290deg,#1d14aa 295deg,#1d13ac 300deg,#1612bd 305deg,#0e13cb 310deg,#0c22c4 315deg,#0c27bf 320deg,#147387 325deg,#14de33 330deg,#17ec25 335deg,#1ff01d 340deg,#26f416 345deg,#39f314 350deg,#4ff114 355deg,#6aed14 360deg)"></div>
<div class="d" style="left:143.50px;top:83.70px;width:233.00px;height:233.00px;background:conic-gradient(#71eb14 0deg,#67ed14 5deg,#5cef14 10deg,#55f114 15deg,#4bf114 20deg,#42f214 25deg,#38f314 30deg,#2df414 35deg,#26f416 40deg,#22f21a 45deg,#1df01f 50deg,#19ed23 55deg,#14eb28 60deg,#14b84f 65deg,#147e7c 70deg,#0f3ea9 75deg,#0e34b2 80deg,#0d2bbb 85deg,#0c22c4 90deg,#0f3bab 95deg,#135d99 100deg,#147684 105deg,#148971 110deg,#149f61 115deg,#14b750 120deg,#14eb28 125deg,#24f318 130deg,#47f214 135deg,#66ed14 140deg,#90e414 145deg,#b2dd10 150deg,#c5d80b 155deg,#cfd10a 160deg,#d7cb0a 165deg,#dec60a 170deg,#e3c10b 175deg,#e6bb0e 180deg,#e4bf0c 185deg,#e0c40a 190deg,#d9c90a 195deg,#bdda0d 200deg,#57f014 205deg,#1cef20 210deg,#14b551 215deg,#146198 220deg,#0f13c9 225deg,#1312c1 230deg,#1812b8 235deg,#1c13ae 240deg,#1c13ac 245deg,#1d14ab 250deg,#1e14a9 255deg,#1e14a8 260deg,#1e14a7 265deg,#1f14a6 270deg,#1e14a7 275deg,#1e14a8 280deg,#1e14a9 285deg,#1d14ab 290deg,#1c13ad 295deg,#1c13ae 300deg,#1412c0 305deg,#0b14d0 310deg,#0d2db9 315deg,#0d2eb8 320deg,#147882 325deg,#14e32e 330deg,#19ee23 335deg,#21f11b 340deg,#2af514 345deg,#3ff314 350deg,#54f114 355deg,#71eb14 360deg)"></div>
<div class="d" style="left:145.00px;top:85.20px;width:230.00px;height:230.00px;background:conic-gradient(#79e914 0deg,#71eb14 5deg,#68ed14 10deg,#60ef14 15deg,#54f114 20deg,#4af214 25deg,#40f314 30deg,#36f414 35deg,#2df514 40deg,#26f416 45deg,#21f21b 50deg,#1def1f 55deg,#18ed24 60deg,#14c844 65deg,#148971 70deg,#114ea1 75deg,#0f3fa9 80deg,#0e33b3 85deg,#0d29bd 90deg,#1046a5 95deg,#146892 100deg,#147f7b 105deg,#149468 110deg,#14ad58 115deg,#14c744 120deg,#19ed23 125deg,#2af514 130deg,#53f114 135deg,#77ea14 140deg,#9fe114 145deg,#bada0d 150deg,#cbd50a 155deg,#d3ce0a 160deg,#dbc80a 165deg,#e1c20a 170deg,#e5bd0d 175deg,#e9b810 180deg,#e6bc0e 185deg,#e2c10b 190deg,#dec50a 195deg,#cbd50a 200deg,#68ed14 205deg,#1ff11d 210deg,#14c447 215deg,#146c8e 220deg,#0c14ce 225deg,#1113c5 230deg,#1612bc 235deg,#1a13b1 240deg,#1b13af 245deg,#1c13ad 250deg,#1d14ab 255deg,#1d14aa 260deg,#1e14a9 265deg,#1e14a8 270deg,#1e14a9 275deg,#1d14aa 280deg,#1d14ab 285deg,#1c13ad 290deg,#1b13af 295deg,#1b13b1 300deg,#1213c3 305deg,#0b18ce 310deg,#0e37af 315deg,#0e35b1 320deg,#147e7c 325deg,#14e82a 330deg,#1bef21 335deg,#23f319 340deg,#31f414 345deg,#46f214 350deg,#5af014 355deg,#79e914 360deg)"></div>
<div class="d" style="left:146.50px;top:86.70px;width:227.00px;height:227.00px;background:conic-gradient(#81e814 0deg,#7be914 5deg,#74ea14 10deg,#6eec14 15deg,#5eef14 20deg,#53f114 25deg,#48f214 30deg,#40f314 35deg,#38f314 40deg,#30f414 45deg,#26f416 50deg,#21f11b 55deg,#1cef20 60deg,#14d53a 65deg,#149468 70deg,#135c9a 75deg,#114ca2 80deg,#0f3bab 85deg,#0d2fb7 90deg,#12519f 95deg,#147189 100deg,#148971 105deg,#14a160 110deg,#14bc4d 115deg,#14d539 120deg,#1def1f 125deg,#35f414 130deg,#61ee14 135deg,#88e614 140deg,#a9df12 145deg,#c4d80b 150deg,#cfd20a 155deg,#d7cb0a 160deg,#e0c40a 165deg,#e4bf0c 170deg,#e8b910 175deg,#ecb413 180deg,#e8b910 185deg,#e5bd0d 190deg,#e2c20b 195deg,#d1d00a 200deg,#7be914 205deg,#23f219 210deg,#14d33b 215deg,#147684 220deg,#0a15d1 225deg,#0f13c9 230deg,#1412bf 235deg,#1913b4 240deg,#1a13b2 245deg,#1b13af 250deg,#1c13ac 255deg,#1d14ab 260deg,#1d14aa 265deg,#1e14a9 270deg,#1d14aa 275deg,#1d14ab 280deg,#1c13ac 285deg,#1b13af 290deg,#1a13b1 295deg,#1a13b3 300deg,#1013c7 305deg,#0c21c5 310deg,#1044a6 315deg,#0f3caa 320deg,#148377 325deg,#15eb27 330deg,#1df01f 335deg,#26f416 340deg,#38f314 345deg,#4cf114 350deg,#63ee14 355deg,#81e814 360deg)"></div>
<div class="d" style="left:148.00px;top:88.20px;width:224.00px;height:224.00px;background:conic-gradient(#89e614 0deg,#85e714 5deg,#80e814 10deg,#7ce914 15deg,#6cec14 20deg,#5cf014 25deg,#51f114 30deg,#4af214 35deg,#44f214 40deg,#3ef314 45deg,#2ff414 50deg,#25f417 55deg,#20f11c 60deg,#14df32 65deg,#14a160 70deg,#146991 75deg,#13599c 80deg,#1046a5 85deg,#0e36b0 90deg,#135f99 95deg,#147c7e 100deg,#149866 105deg,#14b254 110deg,#14ce3f 115deg,#14e130 120deg,#21f21b 125deg,#41f314 130deg,#74eb14 135deg,#98e314 140deg,#b4dc0f 145deg,#cad60a 150deg,#d3ce0a 155deg,#dcc70a 160deg,#e3c00c 165deg,#e7bb0f 170deg,#ebb512 175deg,#efb015 180deg,#ebb512 185deg,#e8b910 190deg,#e5be0d 195deg,#d7cb0a 200deg,#8ce514 205deg,#27f415 210deg,#14dc34 215deg,#14807a 220deg,#0b1fc7 225deg,#0d14cd 230deg,#1213c3 235deg,#1812b7 240deg,#1913b4 245deg,#1a13b2 250deg,#1b13af 255deg,#1c13ae 260deg,#1c13ad 265deg,#1d14ac 270deg,#1c13ad 275deg,#1c13ae 280deg,#1b13af 285deg,#1a13b2 290deg,#1913b5 295deg,#1812b7 300deg,#0d13cc 305deg,#0d2db9 310deg,#135a9b 315deg,#114ea1 320deg,#148c6e 325deg,#17ec25 330deg,#20f11c 335deg,#29f514 340deg,#3ff314 345deg,#52f114 350deg,#6bec14 355deg,#89e614 360deg)"></div>
<div class="d" style="left:149.50px;top:89.70px;width:221.00px;height:221.00px;background:conic-gradient(#90e414 0deg,#8ee514 5deg,#8ce514 10deg,#8ae614 15deg,#7ae914 20deg,#6aed14 25deg,#5af014 30deg,#55f114 35deg,#50f114 40deg,#4bf214 45deg,#3cf314 50deg,#2cf514 55deg,#24f318 60deg,#14e82a 65deg,#14ae57 70deg,#147288 75deg,#146694 80deg,#12539e 85deg,#0f3fa8 90deg,#146a90 95deg,#148773 100deg,#14a85b 105deg,#14c546 110deg,#14dc34 115deg,#15ec27 120deg,#26f416 125deg,#4df114 130deg,#86e714 135deg,#a6df12 140deg,#bed90c 145deg,#ced20a 150deg,#d7cb0a 155deg,#e0c40a 160deg,#e6bc0e 165deg,#eab711 170deg,#eeb114 175deg,#f2ab18 180deg,#eeb015 185deg,#ebb512 190deg,#e7ba0f 195deg,#ddc60a 200deg,#9ee114 205deg,#2ff414 210deg,#14e62c 215deg,#148b6f 220deg,#0d2abc 225deg,#0a14d2 230deg,#1013c6 235deg,#1712ba 240deg,#1812b8 245deg,#1913b5 250deg,#1a13b3 255deg,#1a13b2 260deg,#1b13b0 265deg,#1b13af 270deg,#1b13b0 275deg,#1a13b2 280deg,#1a13b3 285deg,#1813b6 290deg,#1712ba 295deg,#1612bd 300deg,#0a15d1 305deg,#0f3ea9 310deg,#146f8b 315deg,#146793 320deg,#149b64 325deg,#19ed23 330deg,#22f21a 335deg,#2ff414 340deg,#45f214 345deg,#58f014 350deg,#74ea14 355deg,#90e414 360deg)"></div>
<div class="d" style="left:151.00px;top:91.20px;width:218.00px;height:218.00px;background:conic-gradient(#9ae214 0deg,#9ae214 5deg,#99e214 10deg,#98e314 15deg,#88e614 20deg,#77ea14 25deg,#66ed14 30deg,#61ee14 35deg,#5cf014 40deg,#58f014 45deg,#48f214 50deg,#37f414 55deg,#27f515 60deg,#16ec26 65deg,#14bc4d 70deg,#147b7f 75deg,#14708a 80deg,#146595 85deg,#12539f 90deg,#147684 95deg,#149568 100deg,#14b94e 105deg,#14d639 110deg,#14e92a 115deg,#1aee22 120deg,#2ff414 125deg,#59f014 130deg,#97e314 135deg,#b2dc0f 140deg,#c9d60a 145deg,#d3ce0a 150deg,#dcc70a 155deg,#e3c00c 160deg,#e8b910 165deg,#edb214 170deg,#f1ac17 175deg,#f6a61b 180deg,#f1ac17 185deg,#edb214 190deg,#eab611 195deg,#e2c20b 200deg,#abde11 205deg,#39f314 210deg,#16ec26 215deg,#149766 220deg,#0e35b1 225deg,#0b1dc9 230deg,#0e13ca 235deg,#1612bd 240deg,#1612bb 245deg,#1712b9 250deg,#1812b6 255deg,#1913b5 260deg,#1913b4 265deg,#1a13b3 270deg,#1913b4 275deg,#1913b5 280deg,#1812b6 285deg,#1712ba 290deg,#1512be 295deg,#1312c2 300deg,#0c22c4 305deg,#12559e 310deg,#148179 315deg,#147783 320deg,#14aa5a 325deg,#1bee21 330deg,#24f318 335deg,#35f414 340deg,#4cf114 345deg,#61ef14 350deg,#7ee814 355deg,#9ae214 360deg)"></div>
<div class="d" style="left:152.50px;top:92.70px;width:215.00px;height:215.00px;background:conic-gradient(#a4e013 0deg,#a4e013 5deg,#a4e013 10deg,#a4e013 15deg,#96e314 20deg,#85e714 25deg,#74eb14 30deg,#71eb14 35deg,#6eec14 40deg,#6bec14 45deg,#55f014 50deg,#45f214 55deg,#34f414 60deg,#1cef20 65deg,#14d23c 70deg,#148b6f 75deg,#147f7b 80deg,#147288 85deg,#146595 90deg,#148377 95deg,#14a45e 100deg,#14cb41 105deg,#14e130 110deg,#18ed24 115deg,#1ff11d 120deg,#3bf314 125deg,#6aed14 130deg,#a6e012 135deg,#bfd90c 140deg,#ced20a 145deg,#d9ca0a 150deg,#e1c30a 155deg,#e6bc0e 160deg,#ebb512 165deg,#f0ae16 170deg,#f5a81a 175deg,#f9a11d 180deg,#f5a81a 185deg,#f0ae16 190deg,#edb213 195deg,#e5bd0e 200deg,#b8db0e 205deg,#45f214 210deg,#1aee22 215deg,#14a45e 220deg,#1042a7 225deg,#0c26c0 230deg,#0c14ce 235deg,#1412bf 240deg,#1512be 245deg,#1612bc 250deg,#1712ba 255deg,#1712b9 260deg,#1812b8 265deg,#1812b6 270deg,#1812b8 275deg,#1712b9 280deg,#1712ba 285deg,#1512be 290deg,#1313c2 295deg,#1013c6 300deg,#0d2eb8 305deg,#146991 310deg,#149469 315deg,#148872 320deg,#14bb4d 325deg,#1def1f 330deg,#26f416 335deg,#3bf314 340deg,#52f114 345deg,#6cec14 350deg,#89e614 355deg,#a4e013 360deg)"></div>
<div class="d" style="left:154.00px;top:94.20px;width:212.00px;height:212.00px;background:conic-gradient(#acde11 0deg,#adde11 5deg,#adde11 10deg,#aedd10 15deg,#a2e013 20deg,#92e414 25deg,#81e814 30deg,#80e814 35deg,#80e814 40deg,#7fe814 45deg,#67ed14 50deg,#53f114 55deg,#43f214 60deg,#21f21b 65deg,#14e030 70deg,#149f61 75deg,#148e6d 80deg,#14807a 85deg,#147288 90deg,#14906b 95deg,#14b552 100deg,#14d937 105deg,#15eb27 110deg,#1cef20 115deg,#24f318 120deg,#47f214 125deg,#7ce914 130deg,#b2dc10 135deg,#c9d60a 140deg,#d3ce0a 145deg,#dec60a 150deg,#e4bf0c 155deg,#e9b810 160deg,#eeb114 165deg,#f3aa18 170deg,#f8a31c 175deg,#fb9a1f 180deg,#f8a31c 185deg,#f3aa18 190deg,#f0af16 195deg,#e9b810 200deg,#c5d80b 205deg,#50f114 210deg,#1df01f 215deg,#14b155 220deg,#12519f 225deg,#0d2fb7 230deg,#0a14d1 235deg,#1313c2 240deg,#1412c0 245deg,#1412bf 250deg,#1512be 255deg,#1612bd 260deg,#1612bb 265deg,#1712ba 270deg,#1612bb 275deg,#1612bd 280deg,#1512be 285deg,#1313c2 290deg,#1013c6 295deg,#0e13cb 300deg,#0f3bab 305deg,#147783 310deg,#14a85b 315deg,#149c63 320deg,#14cd40 325deg,#1ff01d 330deg,#29f514 335deg,#41f214 340deg,#59f014 345deg,#76ea14 350deg,#94e414 355deg,#acde11 360deg)"></div>
<div class="d" style="left:155.50px;top:95.70px;width:209.00px;height:209.00px;background:conic-gradient(#b4dc0f 0deg,#b5dc0f 5deg,#b7db0e 10deg,#b8db0e 15deg,#adde11 20deg,#a1e114 25deg,#91e414 30deg,#92e414 35deg,#93e414 40deg,#94e414 45deg,#7ce914 50deg,#65ee14 55deg,#51f114 60deg,#27f515 65deg,#15ec27 70deg,#14b452 75deg,#14a160 80deg,#148e6d 85deg,#147e7c 90deg,#14a160 95deg,#14ca42 100deg,#14e72b 105deg,#1aee22 110deg,#22f21a 115deg,#2bf514 120deg,#53f114 125deg,#8ee514 130deg,#beda0c 135deg,#ced20a 140deg,#d9ca0a 145deg,#e2c10b 150deg,#e7bb0f 155deg,#ecb413 160deg,#f1ad17 165deg,#f6a61b 170deg,#fa9e1e 175deg,#fb9420 180deg,#fa9d1f 185deg,#f7a41c 190deg,#f3aa18 195deg,#ecb313 200deg,#ccd40a 205deg,#5def14 210deg,#21f21b 215deg,#14c446 220deg,#146b8f 225deg,#1040a8 230deg,#0b1dc9 235deg,#1113c5 240deg,#1213c3 245deg,#1313c2 250deg,#1312c1 255deg,#1412c0 260deg,#1512bf 265deg,#1512be 270deg,#1512bf 275deg,#1412c0 280deg,#1312c1 285deg,#1113c6 290deg,#0e13cb 295deg,#0b14d0 300deg,#114ba2 305deg,#148575 310deg,#14c04a 315deg,#14b353 320deg,#14db35 325deg,#21f11b 330deg,#2ff414 335deg,#48f214 340deg,#64ee14 345deg,#82e714 350deg,#a0e114 355deg,#b4dc0f 360deg)"></div>
<div class="d" style="left:157.00px;top:97.20px;width:206.00px;height:206.00px;background:conic-gradient(#bcda0d 0deg,#beda0d 5deg,#c0d90c 10deg,#c2d90c 15deg,#b7db0e 20deg,#acde11 25deg,#a2e014 30deg,#a3e013 35deg,#a4e013 40deg,#a5e013 45deg,#91e414 50deg,#7ae914 55deg,#63ee14 60deg,#34f414 65deg,#1bee21 70deg,#14cb41 75deg,#14b453 80deg,#149e62 85deg,#148a70 90deg,#14b353 95deg,#14db35 100deg,#18ed24 105deg,#20f11c 110deg,#28f514 115deg,#3bf314 120deg,#66ed14 125deg,#a1e114 130deg,#c9d60a 135deg,#d3ce0a 140deg,#dec50a 145deg,#e5bd0e 150deg,#eab612 155deg,#efaf16 160deg,#f4a819 165deg,#faa11e 170deg,#fb9620 175deg,#fc8c22 180deg,#fb9420 185deg,#fa9d1f 190deg,#f7a41c 195deg,#f0ae16 200deg,#d2cf0a 205deg,#71eb14 210deg,#26f416 215deg,#14d639 220deg,#14807a 225deg,#13599c 230deg,#0d29bd 235deg,#1013c7 240deg,#1013c6 245deg,#1113c5 250deg,#1213c4 255deg,#1213c3 260deg,#1313c2 265deg,#1312c1 270deg,#1313c2 275deg,#1213c3 280deg,#1213c4 285deg,#0f13c9 290deg,#0c14cf 295deg,#0b18ce 300deg,#135d9a 305deg,#149568 310deg,#14d53a 315deg,#14cc41 320deg,#14e62c 325deg,#23f219 330deg,#35f414 335deg,#4ff114 340deg,#70eb14 345deg,#8ee514 350deg,#a8df12 355deg,#bcda0d 360deg)"></div>
<div class="d" style="left:158.50px;top:98.70px;width:203.00px;height:203.00px;background:conic-gradient(#c4d80b 0deg,#c6d70a 5deg,#c8d70a 10deg,#c9d60a 15deg,#c1d90c 20deg,#b8db0e 25deg,#aede10 30deg,#b0dd10 35deg,#b1dd10 40deg,#b3dc0f 45deg,#a4e013 50deg,#90e514 55deg,#7ae914 60deg,#42f214 65deg,#20f11c 70deg,#14dc34 75deg,#14ca42 80deg,#14b254 85deg,#149c63 90deg,#14c943 95deg,#14ea29 100deg,#1ef01e 105deg,#26f416 110deg,#37f414 115deg,#4bf214 120deg,#7ce914 125deg,#afdd10 130deg,#ced20a 135deg,#d8ca0a 140deg,#e2c10b 145deg,#e9b810 150deg,#eeb114 155deg,#f4a919 160deg,#f9a11d 165deg,#fb9820 170deg,#fc8d22 175deg,#fd8324 180deg,#fc8b22 185deg,#fb9520 190deg,#fa9f1e 195deg,#f3a919 200deg,#d8ca0a 205deg,#86e614 210deg,#2ef414 215deg,#14e22f 220deg,#149667 225deg,#146c8e 230deg,#0e34b2 235deg,#0e13ca 240deg,#0f13c9 245deg,#0f13c8 250deg,#1013c7 255deg,#1113c6 260deg,#1113c5 265deg,#1213c4 270deg,#1113c5 275deg,#1113c6 280deg,#1013c7 285deg,#0d14cd 290deg,#0a16d0 295deg,#0c21c5 300deg,#146a90 305deg,#14a65d 310deg,#14e42e 315deg,#14dd33 320deg,#17ec25 325deg,#25f317 330deg,#3bf314 335deg,#56f014 340deg,#7de914 345deg,#9ae214 350deg,#b0dd10 355deg,#c4d80b 360deg)"></div>
<div class="d" style="left:160.00px;top:100.20px;width:200.00px;height:200.00px;background:conic-gradient(#c9d60a 0deg,#cbd50a 5deg,#ccd40a 10deg,#cdd30a 15deg,#cad60a 20deg,#c3d80b 25deg,#bada0e 30deg,#bcda0d 35deg,#bfd90c 40deg,#c1d90c 45deg,#b2dc0f 50deg,#a4e013 55deg,#90e414 60deg,#51f114 65deg,#26f416 70deg,#15eb27 75deg,#14dd34 80deg,#14ca42 85deg,#14b055 90deg,#14db35 95deg,#19ed23 100deg,#24f318 105deg,#32f414 110deg,#46f214 115deg,#5bf014 120deg,#93e414 125deg,#bdda0d 130deg,#d3ce0a 135deg,#dec50a 140deg,#e5bd0e 145deg,#ecb413 150deg,#f2ac17 155deg,#f8a31c 160deg,#fb991f 165deg,#fc8f21 170deg,#fd8523 175deg,#fe7b25 180deg,#fd8324 185deg,#fc8c22 190deg,#fb9720 195deg,#f7a41c 200deg,#dec60a 205deg,#9ce214 210deg,#3af314 215deg,#15ec27 220deg,#14ae57 225deg,#147b7f 230deg,#1040a8 235deg,#0d14cd 240deg,#0d14cd 245deg,#0d13cc 250deg,#0e13cb 255deg,#0e13ca 260deg,#0f13c9 265deg,#1013c8 270deg,#0f13c8 275deg,#0f13c9 280deg,#0e13ca 285deg,#0a14d2 290deg,#0c23c3 295deg,#0e32b4 300deg,#147a80 305deg,#14ba4e 310deg,#16ec26 315deg,#14eb28 320deg,#1bee21 325deg,#27f415 330deg,#41f214 335deg,#5fef14 340deg,#89e614 345deg,#a4e013 350deg,#b7db0e 355deg,#c9d60a 360deg)"></div>
<div class="d" style="left:161.50px;top:101.70px;width:197.00px;height:197.00px;background:conic-gradient(#ccd40a 0deg,#ced30a 5deg,#cfd10a 10deg,#d1d00a 15deg,#ced20a 20deg,#cad50a 25deg,#c6d80a 30deg,#c8d70a 35deg,#cad60a 40deg,#cbd50a 45deg,#c0d90c 50deg,#b2dc0f 55deg,#a4e013 60deg,#64ee14 65deg,#35f414 70deg,#1cef20 75deg,#15ec27 80deg,#14dc34 85deg,#14c645 90deg,#14e92a 95deg,#1ef01e 100deg,#2cf514 105deg,#41f214 110deg,#56f014 115deg,#73eb14 120deg,#a7df12 125deg,#cad50a 130deg,#dac90a 135deg,#e3c10b 140deg,#e9b810 145deg,#efb015 150deg,#f5a71a 155deg,#fa9c1f 160deg,#fc8f21 165deg,#fd8623 170deg,#fe7c25 175deg,#ff7227 180deg,#fe7a26 185deg,#fd8324 190deg,#fc9021 195deg,#fa9f1e 200deg,#e3c00c 205deg,#acde11 210deg,#45f214 215deg,#1aee22 220deg,#14c943 225deg,#148a70 230deg,#1150a0 235deg,#0b14d0 240deg,#0b14d0 245deg,#0b14d0 250deg,#0b14d1 255deg,#0b14cf 260deg,#0c14ce 265deg,#0d14cc 270deg,#0d14cd 275deg,#0d14cd 280deg,#0d14cd 285deg,#0c20c6 290deg,#0e36b0 295deg,#12529f 300deg,#148e6d 305deg,#14d13c 310deg,#1bee21 315deg,#1aee22 320deg,#1ff11d 325deg,#2af514 330deg,#47f214 335deg,#69ed14 340deg,#95e314 345deg,#abde11 350deg,#bed90c 355deg,#ccd40a 360deg)"></div>
<div class="d" style="left:163.00px;top:103.20px;width:194.00px;height:194.00px;background:conic-gradient(#ced20a 0deg,#d0d00a 5deg,#d3ce0a 10deg,#d5cd0a 15deg,#d2cf0a 20deg,#cfd10a 25deg,#ccd40a 30deg,#ced20a 35deg,#cfd10a 40deg,#d1d00a 45deg,#cbd50a 50deg,#c1d90c 55deg,#b3dc0f 60deg,#7ce914 65deg,#46f214 70deg,#23f219 75deg,#1cef20 80deg,#14eb28 85deg,#14d837 90deg,#19ed23 95deg,#25f317 100deg,#3df314 105deg,#52f114 110deg,#6dec14 115deg,#8ce514 120deg,#b7db0e 125deg,#d0d00a 130deg,#e0c40a 135deg,#e6bc0e 140deg,#ecb313 145deg,#f2ab18 150deg,#f9a11d 155deg,#fb9420 160deg,#fd8623 165deg,#fe7c25 170deg,#ff7327 175deg,#fe6729 180deg,#ff7127 185deg,#fe7b25 190deg,#fc8823 195deg,#fb9720 200deg,#e7bb0e 205deg,#bcda0d 210deg,#51f114 215deg,#1ef01e 220deg,#14dd33 225deg,#149b64 230deg,#135f98 235deg,#0a15d1 240deg,#0a17cf 245deg,#0b19cd 250deg,#0b1bcb 255deg,#0b18ce 260deg,#0a15d1 265deg,#0a14d1 270deg,#0b14d1 275deg,#0b14d0 280deg,#0b14cf 285deg,#0d2cba 290deg,#114ea1 295deg,#146f8b 300deg,#14a65d 305deg,#14e031 310deg,#20f11c 315deg,#1ff01d 320deg,#23f319 325deg,#2ff414 330deg,#4df114 335deg,#74ea14 340deg,#a1e114 345deg,#b3dc0f 350deg,#c5d80b 355deg,#ced20a 360deg)"></div>
<div class="d" style="left:164.50px;top:104.70px;width:191.00px;height:191.00px;background:conic-gradient(#d1d00a 0deg,#d3ce0a 5deg,#d6cc0a 10deg,#d9ca0a 15deg,#d6cc0a 20deg,#d4ce0a 25deg,#d1d00a 30deg,#d3ce0a 35deg,#d5cd0a 40deg,#d6cb0a 45deg,#d1d00a 50deg,#cbd40a 55deg,#c3d80b 60deg,#94e414 65deg,#57f014 70deg,#2df414 75deg,#23f319 80deg,#1cef20 85deg,#15eb27 90deg,#21f11b 95deg,#34f414 100deg,#51f114 105deg,#6aed14 110deg,#88e614 115deg,#a4e013 120deg,#c8d70a 125deg,#d7cb0a 130deg,#e4bf0c 135deg,#eab711 140deg,#efaf16 145deg,#f5a71a 150deg,#fb9b1f 155deg,#fc8c22 160deg,#fe7d25 165deg,#fe7327 170deg,#ff6829 175deg,#fd5b2c 180deg,#fe652a 185deg,#ff7227 190deg,#fd8024 195deg,#fc9021 200deg,#eab612 205deg,#c9d60a 210deg,#5def14 215deg,#23f219 220deg,#15eb27 225deg,#14ae57 230deg,#146c8e 235deg,#0b1dc9 240deg,#0b20c6 245deg,#0c22c4 250deg,#0c25c1 255deg,#0c23c3 260deg,#0c20c6 265deg,#0b1ec8 270deg,#0b1bcb 275deg,#0a17cf 280deg,#0a14d2 285deg,#0f3aac 290deg,#146a90 295deg,#148a70 300deg,#14c446 305deg,#16ec26 310deg,#24f318 315deg,#24f318 320deg,#28f514 325deg,#35f414 330deg,#54f114 335deg,#7fe814 340deg,#a9df12 345deg,#bbda0d 350deg,#cad60a 355deg,#d1d00a 360deg)"></div>
<div class="d" style="left:166.00px;top:106.20px;width:188.00px;height:188.00px;background:conic-gradient(#d3ce0a 0deg,#d6cc0a 5deg,#d9c90a 10deg,#ddc70a 15deg,#dbc80a 20deg,#d9c90a 25deg,#d7cb0a 30deg,#d9c90a 35deg,#dbc80a 40deg,#ddc60a 45deg,#d8ca0a 50deg,#d2cf0a 55deg,#cdd30a 60deg,#a9df12 65deg,#6feb14 70deg,#3ff314 75deg,#2ff414 80deg,#24f318 85deg,#1df01f 90deg,#2bf514 95deg,#48f214 100deg,#6bec14 105deg,#89e614 110deg,#a5e013 115deg,#bada0d 120deg,#d0d00a 125deg,#dec50a 130deg,#e8b910 135deg,#edb214 140deg,#f3aa18 145deg,#f8a21d 150deg,#fb9321 155deg,#fd8324 160deg,#fe7327 165deg,#ff6929 170deg,#fe5c2c 175deg,#fd4e2f 180deg,#fd572d 185deg,#fe652a 190deg,#fe7726 195deg,#fc8823 200deg,#efb015 205deg,#d1d00a 210deg,#6eec14 215deg,#26f416 220deg,#1bee21 225deg,#14c744 230deg,#147e7c 235deg,#0e32b4 240deg,#0e31b5 245deg,#0d30b6 250deg,#0d2fb7 255deg,#0e32b4 260deg,#0e35b1 265deg,#0e38ae 270deg,#0d2db9 275deg,#0c23c3 280deg,#0b19cd 285deg,#114ca2 290deg,#147e7c 295deg,#14ac58 300deg,#14dd33 305deg,#1cef20 310deg,#2af514 315deg,#29f514 320deg,#31f414 325deg,#3ff314 330deg,#5eef14 335deg,#8ce514 340deg,#b1dd10 345deg,#c2d90c 350deg,#ccd40a 355deg,#d3ce0a 360deg)"></div>
<div class="d" style="left:167.50px;top:107.70px;width:185.00px;height:185.00px;background:conic-gradient(#d8cb0a 0deg,#dbc80a 5deg,#ddc60a 10deg,#e0c40a 15deg,#dfc40a 20deg,#dec50a 25deg,#ddc60a 30deg,#dfc40a 35deg,#e1c30a 40deg,#e3c10b 45deg,#dec50a 50deg,#d9ca0a 55deg,#d3ce0a 60deg,#bada0d 65deg,#8ae614 70deg,#52f114 75deg,#42f214 80deg,#33f414 85deg,#26f416 90deg,#3ff314 95deg,#5def14 100deg,#89e614 105deg,#a6e013 110deg,#bbda0d 115deg,#ccd40a 120deg,#d9ca0a 125deg,#e4bf0c 130deg,#ecb412 135deg,#f1ad17 140deg,#f6a51b 145deg,#fa9d1f 150deg,#fc8c22 155deg,#fe7b25 160deg,#ff6829 165deg,#fe5b2c 170deg,#fd4f2f 175deg,#fc432f 180deg,#fc4930 185deg,#fd572d 190deg,#ff6e28 195deg,#fd8124 200deg,#f3aa18 205deg,#d9c90a 210deg,#7ee814 215deg,#2df514 220deg,#20f11c 225deg,#14da35 230deg,#14916a 235deg,#114aa3 240deg,#114ea1 245deg,#1251a0 250deg,#12549e 255deg,#12569d 260deg,#12589c 265deg,#135a9b 270deg,#114da1 275deg,#1041a8 280deg,#0e36b0 285deg,#146f8b 290deg,#149b64 295deg,#14d13d 300deg,#16ec26 305deg,#22f21a 310deg,#36f414 315deg,#34f414 320deg,#3cf314 325deg,#49f214 330deg,#6cec14 335deg,#98e314 340deg,#b9db0e 345deg,#c9d60a 350deg,#d0d00a 355deg,#d8cb0a 360deg)"></div>
<div class="d" style="left:169.00px;top:109.20px;width:182.00px;height:182.00px;background:conic-gradient(#dcc70a 0deg,#dfc50a 5deg,#e1c30a 10deg,#e3c00c 15deg,#e3c10b 20deg,#e2c10b 25deg,#e2c20b 30deg,#e4bf0c 35deg,#e5bd0d 40deg,#e7bb0f 45deg,#e3c00c 50deg,#e0c40a 55deg,#dac90a 60deg,#cad50a 65deg,#a7df12 70deg,#73eb14 75deg,#5af014 80deg,#49f214 85deg,#38f314 90deg,#54f114 95deg,#7ce914 100deg,#a5e013 105deg,#bbda0d 110deg,#ccd40a 115deg,#d5cd0a 120deg,#e1c30a 125deg,#e8b910 130deg,#efaf16 135deg,#f4a81a 140deg,#f9a11e 145deg,#fb9720 150deg,#fd8523 155deg,#ff7327 160deg,#fd5a2c 165deg,#fc4e2f 170deg,#fc432f 175deg,#fb3a2e 180deg,#fb3f2f 185deg,#fc4930 190deg,#fe602b 195deg,#fe7926 200deg,#f7a41c 205deg,#e1c30a 210deg,#8ee514 215deg,#33f414 220deg,#23f319 225deg,#14e52d 230deg,#14a45e 235deg,#146694 240deg,#146c8e 245deg,#147288 250deg,#147882 255deg,#147a80 260deg,#147c7e 265deg,#147e7c 270deg,#147684 275deg,#146d8d 280deg,#146496 285deg,#148b6f 290deg,#14bd4c 295deg,#14e62c 300deg,#1def1f 305deg,#28f514 310deg,#43f214 315deg,#40f314 320deg,#46f214 325deg,#53f114 330deg,#7ae914 335deg,#a3e013 340deg,#c1d90c 345deg,#cdd30a 350deg,#d4cd0a 355deg,#dcc70a 360deg)"></div>
<div class="d" style="left:170.50px;top:110.70px;width:179.00px;height:179.00px;background:conic-gradient(#e1c30a 0deg,#e2c10b 5deg,#e4bf0c 10deg,#e5bd0d 15deg,#e5bd0d 20deg,#e5bd0d 25deg,#e5bd0e 30deg,#e7ba0f 35deg,#e9b810 40deg,#ebb512 45deg,#e8ba0f 50deg,#e4bf0d 55deg,#e1c30a 60deg,#d2cf0a 65deg,#bdda0d 70deg,#97e314 75deg,#80e814 80deg,#68ed14 85deg,#53f114 90deg,#78ea14 95deg,#9fe114 100deg,#bbda0d 105deg,#ccd40a 110deg,#d5cd0a 115deg,#dec50a 120deg,#e6bc0e 125deg,#ecb313 130deg,#f2aa18 135deg,#f8a31c 140deg,#fb9a1f 145deg,#fc9021 150deg,#fe7d25 155deg,#ff6829 160deg,#fc4d2f 165deg,#fc4530 170deg,#fb3e2f 175deg,#fb372e 180deg,#fb382e 185deg,#fb3f2f 190deg,#fd522e 195deg,#ff7227 200deg,#fa9d1f 205deg,#e6bd0e 210deg,#9fe114 215deg,#38f314 220deg,#23f319 225deg,#15eb27 230deg,#14bd4c 235deg,#148476 240deg,#148a70 245deg,#14916b 250deg,#149866 255deg,#14a061 260deg,#14a75c 265deg,#14af56 270deg,#149e62 275deg,#148e6d 280deg,#14807a 285deg,#14ac59 290deg,#14da36 295deg,#19ee23 300deg,#24f318 305deg,#37f314 310deg,#51f114 315deg,#4bf114 320deg,#50f114 325deg,#5eef14 330deg,#87e614 335deg,#acde11 340deg,#c8d70a 345deg,#d0d00a 350deg,#d9ca0a 355deg,#e1c30a 360deg)"></div>
<div class="d" style="left:172.00px;top:112.20px;width:176.00px;height:176.00px;background:conic-gradient(#e4bf0c 0deg,#e5bd0d 5deg,#e6bc0e 10deg,#e8ba0f 15deg,#e8b910 20deg,#e8b910 25deg,#e9b810 30deg,#ebb512 35deg,#edb214 40deg,#efb015 45deg,#ecb412 50deg,#e8b910 55deg,#e5be0d 60deg,#dac80a 65deg,#cdd30a 70deg,#b3dc0f 75deg,#a4e013 80deg,#91e414 85deg,#7ce914 90deg,#a0e114 95deg,#b8db0e 100deg,#ccd40a 105deg,#d5cc0a 110deg,#dec50a 115deg,#e5bd0d 120deg,#ebb612 125deg,#f0ae16 130deg,#f6a61a 135deg,#fa9e1e 140deg,#fb9321 145deg,#fc8823 150deg,#fe7527 155deg,#fe5b2c 160deg,#fb412f 165deg,#fb3e2f 170deg,#fb3a2e 175deg,#fb372e 180deg,#fb372e 185deg,#fb3b2f 190deg,#fc4530 195deg,#ff6929 200deg,#fb9520 205deg,#eab611 210deg,#aade11 215deg,#3cf314 220deg,#23f319 225deg,#18ed24 230deg,#14d738 235deg,#14a85b 240deg,#14ae57 245deg,#14b353 250deg,#14b94f 255deg,#14c347 260deg,#14ce3f 265deg,#14d639 270deg,#14c149 275deg,#14aa5a 280deg,#149667 285deg,#14c645 290deg,#14e929 295deg,#1ff01d 300deg,#2bf514 305deg,#44f214 310deg,#60ef14 315deg,#59f014 320deg,#5fef14 325deg,#6dec14 330deg,#95e314 335deg,#b4dc0f 340deg,#cbd40a 345deg,#d4cd0a 350deg,#ddc60a 355deg,#e4bf0c 360deg)"></div>
<div class="d" style="left:173.50px;top:113.70px;width:173.00px;height:173.00px;background:conic-gradient(#e7bb0e 0deg,#e8ba0f 5deg,#e9b810 10deg,#eab711 15deg,#ebb512 20deg,#ebb412 25deg,#ecb313 30deg,#efb015 35deg,#f1ad17 40deg,#f3aa18 45deg,#f0af16 50deg,#ecb313 55deg,#e9b810 60deg,#e2c20b 65deg,#d6cc0a 70deg,#cad60a 75deg,#bfd90c 80deg,#b2dc0f 85deg,#a5e013 90deg,#bbda0d 95deg,#ccd40a 100deg,#d5cc0a 105deg,#dfc50a 110deg,#e5bd0d 115deg,#ebb512 120deg,#efaf15 125deg,#f4a919 130deg,#f8a21d 135deg,#fb9820 140deg,#fc8c22 145deg,#fd8124 150deg,#ff6d28 155deg,#fd502e 160deg,#fb382e 165deg,#fb372e 170deg,#fb362e 175deg,#fb362e 180deg,#fb362e 185deg,#fb392e 190deg,#fc422f 195deg,#fe5e2b 200deg,#fc8c22 205deg,#f0ae16 210deg,#b6db0e 215deg,#40f314 220deg,#23f319 225deg,#1bee21 230deg,#14e52c 235deg,#14cb41 240deg,#14cf3e 245deg,#14d33b 250deg,#14d53a 255deg,#14db35 260deg,#14e031 265deg,#14e52d 270deg,#14d738 275deg,#14c248 280deg,#14aa5a 285deg,#14d638 290deg,#17ed25 295deg,#22f21a 300deg,#34f414 305deg,#50f114 310deg,#73eb14 315deg,#72eb14 320deg,#75ea14 325deg,#7be914 330deg,#a2e114 335deg,#bdda0d 340deg,#cfd20a 345deg,#d8ca0a 350deg,#e1c30a 355deg,#e7bb0e 360deg)"></div>
<div class="d" style="left:175.00px;top:115.20px;width:170.00px;height:170.00px;background:conic-gradient(#eab711 0deg,#ebb612 5deg,#ebb512 10deg,#ecb313 15deg,#edb214 20deg,#efb015 25deg,#f0ae16 30deg,#f2ab18 35deg,#f5a71a 40deg,#f7a41c 45deg,#f4a819 50deg,#f1ad16 55deg,#edb214 60deg,#e7bb0f 65deg,#dfc40a 70deg,#d4cd0a 75deg,#d0d10a 80deg,#cbd50a 85deg,#c3d80b 90deg,#ced20a 95deg,#d6cc0a 100deg,#dfc50a 105deg,#e5bd0d 110deg,#ebb512 115deg,#f0ae16 120deg,#f4a819 125deg,#f8a31c 130deg,#fa9d1f 135deg,#fb9121 140deg,#fd8523 145deg,#fe7926 150deg,#fe652a 155deg,#fc4b2f 160deg,#fb372e 165deg,#fb362e 170deg,#fb352e 175deg,#fb352e 180deg,#fb352e 185deg,#fb382e 190deg,#fb3f2f 195deg,#fd532e 200deg,#fd8224 205deg,#f5a71a 210deg,#bed90c 215deg,#40f314 220deg,#23f319 225deg,#1bee21 230deg,#14e52c 235deg,#14cb41 240deg,#14d738 245deg,#14df31 250deg,#14e82a 255deg,#14eb28 260deg,#16ec26 265deg,#18ed24 270deg,#14e130 275deg,#14cb41 280deg,#14ac59 285deg,#14da36 290deg,#1aee22 295deg,#25f417 300deg,#3cf314 305deg,#57f014 310deg,#7fe814 315deg,#89e614 320deg,#8ce514 325deg,#8ae614 330deg,#acde11 335deg,#c6d80a 340deg,#d2cf0a 345deg,#dcc70a 350deg,#e4bf0c 355deg,#eab711 360deg)"></div>
<div class="d" style="left:176.50px;top:116.70px;width:167.00px;height:167.00px;background:conic-gradient(#edb214 0deg,#eeb114 5deg,#eeb015 10deg,#efb015 15deg,#f0ae16 20deg,#f2ac17 25deg,#f3a919 30deg,#f6a51b 35deg,#f9a11d 40deg,#fa9c1f 45deg,#f9a21d 50deg,#f5a71a 55deg,#f2ac17 60deg,#ecb413 65deg,#e6bc0e 70deg,#dfc40a 75deg,#dbc80a 80deg,#d6cb0a 85deg,#d2cf0a 90deg,#d9c90a 95deg,#e1c30a 100deg,#e5bd0d 105deg,#ebb512 110deg,#f0ae16 115deg,#f6a61b 120deg,#f9a21d 125deg,#fa9d1f 130deg,#fb9720 135deg,#fc8b22 140deg,#fd7e25 145deg,#ff7227 150deg,#fe5d2c 155deg,#fc4730 160deg,#fb352e 165deg,#fb352e 170deg,#fb342e 175deg,#fa342e 180deg,#fb342e 185deg,#fb372e 190deg,#fb3d2f 195deg,#fd4e2f 200deg,#fe7b25 205deg,#fa9e1e 210deg,#c7d70a 215deg,#40f314 220deg,#23f319 225deg,#1bee21 230deg,#14e52c 235deg,#14cb41 240deg,#14d838 245deg,#14e130 250deg,#14eb28 255deg,#16ec26 260deg,#17ed25 265deg,#19ed23 270deg,#14e42e 275deg,#14ce3f 280deg,#14ad57 285deg,#14dd33 290deg,#1bef21 295deg,#28f514 300deg,#43f214 305deg,#61ee14 310deg,#8be614 315deg,#a0e114 320deg,#a2e114 325deg,#99e314 330deg,#b5dc0f 335deg,#cbd50a 340deg,#d6cc0a 345deg,#e0c30a 350deg,#e7bb0f 355deg,#edb214 360deg)"></div>
<div class="d" style="left:178.00px;top:118.20px;width:164.00px;height:164.00px;background:conic-gradient(#f1ad16 0deg,#f2ac17 5deg,#f3aa18 10deg,#f4a919 15deg,#f5a71a 20deg,#f6a61b 25deg,#f7a41c 30deg,#fa9f1e 35deg,#fb991f 40deg,#fb9321 45deg,#fb9a1f 50deg,#faa01e 55deg,#f6a51b 60deg,#f1ad17 65deg,#ecb413 70deg,#e6bc0e 75deg,#e4bf0c 80deg,#e1c30a 85deg,#ddc60a 90deg,#e3c10b 95deg,#e7bb0f 100deg,#ebb512 105deg,#f1ad16 110deg,#f6a61b 115deg,#fa9d1f 120deg,#fb991f 125deg,#fb9520 130deg,#fc9121 135deg,#fd8424 140deg,#fe7726 145deg,#ff6929 150deg,#fd552d 155deg,#fc432f 160deg,#fb342e 165deg,#fa342e 170deg,#fa332e 175deg,#fa332e 180deg,#fa332e 185deg,#fb352e 190deg,#fb3b2f 195deg,#fc4c2f 200deg,#fe7527 205deg,#fb9321 210deg,#cbd50a 215deg,#40f314 220deg,#23f319 225deg,#1bee21 230deg,#14e52c 235deg,#14cb41 240deg,#14d838 245deg,#14e130 250deg,#14eb28 255deg,#16ec26 260deg,#17ed25 265deg,#19ee23 270deg,#14e52d 275deg,#14cf3e 280deg,#14af56 285deg,#14de33 290deg,#1cef20 295deg,#28f514 300deg,#46f214 305deg,#69ed14 310deg,#96e314 315deg,#b0dd10 320deg,#b1dd10 325deg,#a5e013 330deg,#bfd90c 335deg,#cfd10a 340deg,#dac90a 345deg,#e3c00c 350deg,#eab611 355deg,#f1ad16 360deg)"></div>
<div class="d" style="left:179.50px;top:119.70px;width:161.00px;height:161.00px;background:conic-gradient(#f4a819 0deg,#f6a61a 5deg,#f7a41c 10deg,#f8a21d 15deg,#f9a11e 20deg,#fa9f1e 25deg,#fa9e1e 30deg,#fb9720 35deg,#fc9021 40deg,#fc8923 45deg,#fc9021 50deg,#fb9720 55deg,#fa9e1e 60deg,#f6a51b 65deg,#f1ac17 70deg,#edb213 75deg,#eab611 80deg,#e8ba0f 85deg,#e5bd0d 90deg,#e9b810 95deg,#edb214 100deg,#f1ad17 105deg,#f6a51b 110deg,#fa9c1f 115deg,#fb9221 120deg,#fc8f21 125deg,#fc8d22 130deg,#fc8b22 135deg,#fd7e25 140deg,#ff7127 145deg,#fe5f2b 150deg,#fc4e2f 155deg,#fb402f 160deg,#fa332e 165deg,#fa332e 170deg,#fa322e 175deg,#fa322e 180deg,#fa322e 185deg,#fa342e 190deg,#fb392e 195deg,#fc4930 200deg,#ff6e28 205deg,#fc8823 210deg,#cfd20a 215deg,#40f314 220deg,#23f319 225deg,#1bee21 230deg,#14e52c 235deg,#14cb41 240deg,#14d838 245deg,#14e130 250deg,#14eb28 255deg,#16ec26 260deg,#18ed24 265deg,#19ee23 270deg,#14e52d 275deg,#14d13d 280deg,#14b155 285deg,#14df32 290deg,#1cef20 295deg,#28f514 300deg,#48f214 305deg,#6feb14 310deg,#a0e114 315deg,#bdda0d 320deg,#bfd90c 325deg,#afdd10 330deg,#c8d70a 335deg,#d3ce0a 340deg,#ddc60a 345deg,#e6bc0e 350deg,#edb214 355deg,#f4a819 360deg)"></div>
<div class="d" style="left:181.00px;top:121.20px;width:158.00px;height:158.00px;background:conic-gradient(#f8a31c 0deg,#f9a11e 5deg,#fa9d1f 10deg,#fb991f 15deg,#fb9820 20deg,#fb9720 25deg,#fb9520 30deg,#fc8e22 35deg,#fc8723 40deg,#fd8024 45deg,#fc8723 50deg,#fc8e22 55deg,#fb9620 60deg,#fa9e1e 65deg,#f7a41c 70deg,#f3aa19 75deg,#f1ad16 80deg,#eeb114 85deg,#ebb412 90deg,#efaf15 95deg,#f3aa18 100deg,#f7a41c 105deg,#fa9b1f 110deg,#fc9121 115deg,#fd8623 120deg,#fd8623 125deg,#fd8523 130deg,#fd8424 135deg,#fe7826 140deg,#ff6c28 145deg,#fd5a2c 150deg,#fc4a2f 155deg,#fb3e2f 160deg,#fa322e 165deg,#fa312d 170deg,#fa312d 175deg,#fa312d 180deg,#fa312d 185deg,#fa322e 190deg,#fb362e 195deg,#fc4730 200deg,#ff6929 205deg,#fd8224 210deg,#d0d00a 215deg,#40f314 220deg,#23f319 225deg,#1bee21 230deg,#14e52c 235deg,#14cb41 240deg,#14d838 245deg,#14e130 250deg,#14eb28 255deg,#16ec26 260deg,#18ed24 265deg,#1aee22 270deg,#14e62c 275deg,#14d23c 280deg,#14b254 285deg,#14df31 290deg,#1cef20 295deg,#28f514 300deg,#48f214 305deg,#6feb14 310deg,#a0e114 315deg,#beda0d 320deg,#c3d80b 325deg,#b9db0e 330deg,#ccd40a 335deg,#d7cb0a 340deg,#e1c30a 345deg,#e9b810 350deg,#f0ae16 355deg,#f8a31c 360deg)"></div>
<div class="d" style="left:182.50px;top:122.70px;width:155.00px;height:155.00px;background:conic-gradient(#fa9e1e 0deg,#fb991f 5deg,#fb9420 10deg,#fc9021 15deg,#fc8f21 20deg,#fc8e22 25deg,#fc8d22 30deg,#fd8623 35deg,#fd7e25 40deg,#fe7726 45deg,#fd7e25 50deg,#fd8523 55deg,#fc8c22 60deg,#fb9321 65deg,#fb9a1f 70deg,#faa01e 75deg,#f7a41c 80deg,#f4a81a 85deg,#f2ac17 90deg,#f6a61a 95deg,#f9a11d 100deg,#fb9a1f 105deg,#fc9021 110deg,#fd8523 115deg,#fe7b25 120deg,#fe7c25 125deg,#fe7d25 130deg,#fd7e25 135deg,#ff7327 140deg,#fe662a 145deg,#fd562d 150deg,#fc4730 155deg,#fb3c2f 160deg,#fa302d 165deg,#fa302d 170deg,#fa302d 175deg,#fa302d 180deg,#fa302d 185deg,#fa312d 190deg,#fb342e 195deg,#fc4530 200deg,#fe6729 205deg,#fd8224 210deg,#d0d00a 215deg,#40f314 220deg,#23f319 225deg,#1bee21 230deg,#14e52c 235deg,#14cb41 240deg,#14d838 245deg,#14e130 250deg,#14eb28 255deg,#16ec26 260deg,#18ed24 265deg,#1aee22 270deg,#14e72b 275deg,#14d33b 280deg,#14b453 285deg,#14e031 290deg,#1cef20 295deg,#28f514 300deg,#48f214 305deg,#6feb14 310deg,#a0e114 315deg,#bed90c 320deg,#c8d70a 325deg,#c3d80b 330deg,#d0d00a 335deg,#dbc80a 340deg,#e3c00c 345deg,#ebb512 350deg,#f3aa18 355deg,#fa9e1e 360deg)"></div>
<div class="d" style="left:184.00px;top:124.20px;width:152.00px;height:152.00px;background:conic-gradient(#fb9720 0deg,#fb9121 5deg,#fc8c22 10deg,#fd8623 15deg,#fd8623 20deg,#fd8523 25deg,#fd8523 30deg,#fd7d25 35deg,#fe7626 40deg,#ff6e28 45deg,#fe7527 50deg,#fe7c25 55deg,#fd8424 60deg,#fc8923 65deg,#fc8e22 70deg,#fb9420 75deg,#fb991f 80deg,#fa9e1e 85deg,#f8a31c 90deg,#fa9c1f 95deg,#fb9520 100deg,#fc8e22 105deg,#fd8424 110deg,#fe7a26 115deg,#ff7028 120deg,#ff7227 125deg,#fe7527 130deg,#fe7726 135deg,#ff6d28 140deg,#fe5f2b 145deg,#fd522e 150deg,#fc4530 155deg,#fb3a2e 160deg,#fa2f2d 165deg,#fa2f2d 170deg,#fa2f2d 175deg,#fa2f2d 180deg,#fa2f2d 185deg,#fa302d 190deg,#fa322e 195deg,#fc4430 200deg,#fe672a 205deg,#fd8224 210deg,#d0d00a 215deg,#40f314 220deg,#23f319 225deg,#1bee21 230deg,#14e52c 235deg,#14cb41 240deg,#14d838 245deg,#14e130 250deg,#14eb28 255deg,#16ec26 260deg,#18ed24 265deg,#1aee22 270deg,#14e82b 275deg,#14d43a 280deg,#14b651 285deg,#14e130 290deg,#1cef20 295deg,#28f514 300deg,#48f214 305deg,#6feb14 310deg,#a0e114 315deg,#bfd90c 320deg,#cad60a 325deg,#cad50a 330deg,#d4cd0a 335deg,#dec50a 340deg,#e6bd0e 345deg,#eeb114 350deg,#f6a51b 355deg,#fb9720 360deg)"></div>
<div class="d" style="left:185.50px;top:125.70px;width:149.00px;height:149.00px;background:conic-gradient(#fc8c22 0deg,#fc8723 5deg,#fd8224 10deg,#fe7c25 15deg,#fe7c25 20deg,#fe7c25 25deg,#fe7d25 30deg,#fe7527 35deg,#ff6d28 40deg,#fe612b 45deg,#ff6c28 50deg,#fe7427 55deg,#fe7b25 60deg,#fd7f25 65deg,#fd8324 70deg,#fc8723 75deg,#fc8c22 80deg,#fb9221 85deg,#fb9720 90deg,#fc9121 95deg,#fc8a22 100deg,#fd8324 105deg,#fe7a26 110deg,#ff7227 115deg,#fe672a 120deg,#ff6a29 125deg,#ff6e28 130deg,#ff7028 135deg,#fe652a 140deg,#fd592c 145deg,#fc4d2f 150deg,#fc422f 155deg,#fb382e 160deg,#fa2e2d 165deg,#fa2e2d 170deg,#fa2e2d 175deg,#fa2e2d 180deg,#fa2e2d 185deg,#fa2f2d 190deg,#fa322e 195deg,#fc4430 200deg,#fe672a 205deg,#fd8224 210deg,#d0d00a 215deg,#40f314 220deg,#23f319 225deg,#1bee21 230deg,#14e52c 235deg,#14cb41 240deg,#14d838 245deg,#14e130 250deg,#14eb28 255deg,#16ec26 260deg,#18ed24 265deg,#1aee22 270deg,#14e82a 275deg,#14d53a 280deg,#14b750 285deg,#14e130 290deg,#1cef20 295deg,#28f514 300deg,#48f214 305deg,#6feb14 310deg,#a0e114 315deg,#c0d90c 320deg,#ccd40a 325deg,#ced20a 330deg,#d9ca0a 335deg,#e2c10b 340deg,#e9b810 345deg,#f2ac17 350deg,#fa9e1e 355deg,#fc8c22 360deg)"></div>
<div class="d" style="left:187.00px;top:127.20px;width:146.00px;height:146.00px;background:conic-gradient(#fd8124 0deg,#fe7c25 5deg,#fe7726 10deg,#ff7327 15deg,#fe7327 20deg,#fe7427 25deg,#fe7427 30deg,#ff6c28 35deg,#fe602b 40deg,#fd552d 45deg,#fe5f2b 50deg,#ff6a29 55deg,#ff7227 60deg,#fe7527 65deg,#fe7826 70deg,#fe7a26 75deg,#fd8024 80deg,#fd8523 85deg,#fc8b22 90deg,#fd8523 95deg,#fd7e25 100deg,#fe7826 105deg,#ff7127 110deg,#ff6829 115deg,#fe5e2b 120deg,#fe612b 125deg,#fe642a 130deg,#fe6829 135deg,#fe5d2c 140deg,#fd532e 145deg,#fc4930 150deg,#fb3f2f 155deg,#fb362e 160deg,#fa2d2d 165deg,#fa2d2d 170deg,#fa2d2d 175deg,#fa2d2d 180deg,#fa2d2d 185deg,#fa2e2d 190deg,#fa322e 195deg,#fc4430 200deg,#fe672a 205deg,#fd8224 210deg,#d0d00a 215deg,#40f314 220deg,#23f319 225deg,#1bee21 230deg,#14e52c 235deg,#14cb41 240deg,#14d838 245deg,#14e130 250deg,#14eb28 255deg,#16ec26 260deg,#18ed24 265deg,#1aee22 270deg,#14e92a 275deg,#14d639 280deg,#14b94f 285deg,#14e22f 290deg,#1cef20 295deg,#28f514 300deg,#48f214 305deg,#6feb14 310deg,#a0e114 315deg,#c1d90c 320deg,#ced30a 325deg,#d2cf0a 330deg,#ddc60a 335deg,#e5bd0d 340deg,#ecb413 345deg,#f6a61b 350deg,#fb9520 355deg,#fd8124 360deg)"></div>
<div class="d" style="left:188.50px;top:128.70px;width:143.00px;height:143.00px;background:conic-gradient(#fe7527 0deg,#ff7127 5deg,#ff6d28 10deg,#fe662a 15deg,#ff6829 20deg,#ff6a29 25deg,#ff6b29 30deg,#fe602b 35deg,#fd542d 40deg,#fc4830 45deg,#fd532e 50deg,#fe5d2c 55deg,#ff6829 60deg,#ff6a29 65deg,#ff6d28 70deg,#ff6f28 75deg,#fe7427 80deg,#fe7926 85deg,#fd7e25 90deg,#fe7926 95deg,#fe7327 100deg,#ff6d28 105deg,#fe652a 110deg,#fe5d2c 115deg,#fd552d 120deg,#fd582d 125deg,#fe5c2c 130deg,#fe5f2b 135deg,#fd562d 140deg,#fc4d2f 145deg,#fc4530 150deg,#fb3d2f 155deg,#fb352e 160deg,#fa2d2d 165deg,#fa2d2d 170deg,#fa2d2d 175deg,#fa2d2d 180deg,#fa2d2d 185deg,#fa2e2d 190deg,#fa322e 195deg,#fc4430 200deg,#fe672a 205deg,#fd8224 210deg,#d0d00a 215deg,#40f314 220deg,#23f319 225deg,#1bee21 230deg,#14e52c 235deg,#14cb41 240deg,#14d838 245deg,#14e130 250deg,#14eb28 255deg,#16ec26 260deg,#18ed24 265deg,#1bee21 270deg,#14ea29 275deg,#14d738 280deg,#14ba4e 285deg,#14e32f 290deg,#1cef20 295deg,#28f514 300deg,#48f214 305deg,#6feb14 310deg,#a0e114 315deg,#c2d90c 320deg,#cfd10a 325deg,#d7cb0a 330deg,#e2c20a 335deg,#e8b910 340deg,#efaf15 345deg,#faa01e 350deg,#fc8b22 355deg,#fe7527 360deg)"></div>
<div class="d" style="left:190.00px;top:130.20px;width:140.00px;height:140.00px;background:conic-gradient(#ff6829 0deg,#fe642a 5deg,#fe5f2b 10deg,#fd5b2c 15deg,#fe5c2c 20deg,#fe5e2b 25deg,#fe5f2b 30deg,#fd552d 35deg,#fc4b2f 40deg,#fc432f 45deg,#fc4a30 50deg,#fd532e 55deg,#fe5b2c 60deg,#fe5c2c 65deg,#fe5d2b 70deg,#fe5e2b 75deg,#fe662a 80deg,#ff6d28 85deg,#ff7227 90deg,#ff6d28 95deg,#fe652a 100deg,#fe5e2b 105deg,#fd592c 110deg,#fd552d 115deg,#fd512e 120deg,#fd552d 125deg,#fd592c 130deg,#fe5e2b 135deg,#fd552d 140deg,#fc4b2f 145deg,#fc4430 150deg,#fb3c2f 155deg,#fb342e 160deg,#fa2d2d 165deg,#fa2d2d 170deg,#fa2d2d 175deg,#fa2d2d 180deg,#fa2d2d 185deg,#fa2e2d 190deg,#fa322e 195deg,#fc4430 200deg,#fe672a 205deg,#fd8224 210deg,#d0d00a 215deg,#40f314 220deg,#23f319 225deg,#1bee21 230deg,#14e52c 235deg,#14cb41 240deg,#14d838 245deg,#14e130 250deg,#14eb28 255deg,#16ec26 260deg,#19ed23 265deg,#1bee21 270deg,#14eb28 275deg,#14d738 280deg,#14bc4c 285deg,#14e32e 290deg,#1def1f 295deg,#28f514 300deg,#48f214 305deg,#6feb14 310deg,#a0e114 315deg,#c3d80b 320deg,#d1cf0a 325deg,#dbc80a 330deg,#e4be0d 335deg,#ebb412 340deg,#f2ab18 345deg,#fb9820 350deg,#fd8124 355deg,#ff6829 360deg)"></div>
<div class="d" style="left:191.50px;top:131.70px;width:137.00px;height:137.00px;background:conic-gradient(#fd592c 0deg,#fd562d 5deg,#fd542e 10deg,#fd512e 15deg,#fd522e 20deg,#fd522e 25deg,#fd532e 30deg,#fc4c2f 35deg,#fc4730 40deg,#fc422f 45deg,#fc4630 50deg,#fc4b2f 55deg,#fd502e 60deg,#fd502e 65deg,#fd502e 70deg,#fd502e 75deg,#fd572d 80deg,#fe5d2b 85deg,#fe642a 90deg,#fe5e2b 95deg,#fd572d 100deg,#fd512e 105deg,#fd512e 110deg,#fd512e 115deg,#fd512e 120deg,#fd552d 125deg,#fd592d 130deg,#fe5c2c 135deg,#fd542e 140deg,#fc4b2f 145deg,#fc4430 150deg,#fb3c2f 155deg,#fb342e 160deg,#fa2d2d 165deg,#fa2d2d 170deg,#fa2d2d 175deg,#fa2d2d 180deg,#fa2d2d 185deg,#fa2e2d 190deg,#fa322e 195deg,#fc4430 200deg,#fe672a 205deg,#fd8224 210deg,#d0d00a 215deg,#40f314 220deg,#23f319 225deg,#1bee21 230deg,#14e52c 235deg,#14cb41 240deg,#14d838 245deg,#14e130 250deg,#14eb28 255deg,#16ec26 260deg,#19ed23 265deg,#1bef21 270deg,#14eb28 275deg,#14d837 280deg,#14be4b 285deg,#14e42e 290deg,#1def1f 295deg,#28f514 300deg,#48f214 305deg,#6feb14 310deg,#a0e114 315deg,#c4d80b 320deg,#d4ce0a 325deg,#e0c40a 330deg,#e8ba0f 335deg,#efb015 340deg,#f6a61b 345deg,#fc9021 350deg,#fe7826 355deg,#fd592c 360deg)"></div>
<div class="d" style="left:193.00px;top:133.20px;width:134.00px;height:134.00px;background:conic-gradient(#fc4a30 0deg,#fc4930 5deg,#fc4930 10deg,#fc4830 15deg,#fc4730 20deg,#fc4730 25deg,#fc4730 30deg,#fc4530 35deg,#fc432f 40deg,#fb412f 45deg,#fc4530 50deg,#fc4930 55deg,#fd4f2f 60deg,#fd4f2f 65deg,#fd4f2f 70deg,#fd4f2f 75deg,#fd502e 80deg,#fd522e 85deg,#fd542e 90deg,#fd532e 95deg,#fd522e 100deg,#fd512e 105deg,#fd512e 110deg,#fd512e 115deg,#fd512e 120deg,#fd542d 125deg,#fd582d 130deg,#fe5b2c 135deg,#fd532e 140deg,#fc4a2f 145deg,#fc4430 150deg,#fb3c2f 155deg,#fb342e 160deg,#fa2d2d 165deg,#fa2d2d 170deg,#fa2d2d 175deg,#fa2d2d 180deg,#fa2d2d 185deg,#fa2e2d 190deg,#fa322e 195deg,#fc4430 200deg,#fe672a 205deg,#fd8224 210deg,#d0d00a 215deg,#40f314 220deg,#23f319 225deg,#1bee21 230deg,#14e52c 235deg,#14cb41 240deg,#14d838 245deg,#14e130 250deg,#14eb28 255deg,#16ec26 260deg,#19ed23 265deg,#1bef21 270deg,#14eb28 275deg,#14d936 280deg,#14bf4a 285deg,#14e52d 290deg,#1def1f 295deg,#28f514 300deg,#48f214 305deg,#6feb14 310deg,#a0e114 315deg,#c4d80b 320deg,#d6cc0a 325deg,#e4c00c 330deg,#ecb413 335deg,#f4a819 340deg,#fa9b1f 345deg,#fd8424 350deg,#ff6c28 355deg,#fc4a30 360deg)"></div>
<div class="d" style="left:194.50px;top:134.70px;width:131.00px;height:131.00px;background:conic-gradient(#fb3e2f 0deg,#fb3f2f 5deg,#fb402f 10deg,#fb412f 15deg,#fb3f2f 20deg,#fb3e2f 25deg,#fb3d2f 30deg,#fb3e2f 35deg,#fb3f2f 40deg,#fb402f 45deg,#fc4430 50deg,#fc4830 55deg,#fc4d2f 60deg,#fc4d2f 65deg,#fc4d2f 70deg,#fc4d2f 75deg,#fc4e2f 80deg,#fd4e2f 85deg,#fd4f2f 90deg,#fd502e 95deg,#fd502e 100deg,#fd512e 105deg,#fd512e 110deg,#fd512e 115deg,#fd512e 120deg,#fd542e 125deg,#fd572d 130deg,#fd5a2c 135deg,#fd522e 140deg,#fc4a30 145deg,#fc4430 150deg,#fb3c2f 155deg,#fb342e 160deg,#fa2d2d 165deg,#fa2d2d 170deg,#fa2d2d 175deg,#fa2d2d 180deg,#fa2d2d 185deg,#fa2e2d 190deg,#fa322e 195deg,#fc4430 200deg,#fe672a 205deg,#fd8224 210deg,#d0d00a 215deg,#40f314 220deg,#23f319 225deg,#1bee21 230deg,#14e52c 235deg,#14cb41 240deg,#14d838 245deg,#14e130 250deg,#14eb28 255deg,#17ec25 260deg,#19ee23 265deg,#1cef20 270deg,#15eb27 275deg,#14da36 280deg,#14c149 285deg,#14e52d 290deg,#1def1f 295deg,#28f514 300deg,#48f214 305deg,#6feb14 310deg,#a0e114 315deg,#c5d80b 320deg,#d8ca0a 325deg,#e6bb0e 330deg,#f0ae16 335deg,#f9a11d 340deg,#fc8f21 345deg,#fe7826 350deg,#fe5c2c 355deg,#fb3e2f 360deg)"></div>
<div class="d" style="left:196.00px;top:136.20px;width:128.00px;height:128.00px;background:conic-gradient(#fb382e 0deg,#fb392e 5deg,#fb392e 10deg,#fb392e 15deg,#fb392e 20deg,#fb392e 25deg,#fb382e 30deg,#fb3a2e 35deg,#fb3c2f 40deg,#fb3e2f 45deg,#fc432f 50deg,#fc4730 55deg,#fc4b2f 60deg,#fc4b2f 65deg,#fc4b2f 70deg,#fc4b2f 75deg,#fc4c2f 80deg,#fc4d2f 85deg,#fc4d2f 90deg,#fc4e2f 95deg,#fd502e 100deg,#fd512e 105deg,#fd512e 110deg,#fd512e 115deg,#fd512e 120deg,#fd532e 125deg,#fd562d 130deg,#fd582d 135deg,#fd512e 140deg,#fc4a30 145deg,#fc4430 150deg,#fb3c2f 155deg,#fb342e 160deg,#fa2d2d 165deg,#fa2d2d 170deg,#fa2d2d 175deg,#fa2d2d 180deg,#fa2d2d 185deg,#fa2e2d 190deg,#fa322e 195deg,#fc4430 200deg,#fe672a 205deg,#fd8224 210deg,#d0d00a 215deg,#40f314 220deg,#23f319 225deg,#1bee21 230deg,#14e52c 235deg,#14cb41 240deg,#14d838 245deg,#14e130 250deg,#14eb28 255deg,#17ec25 260deg,#19ee23 265deg,#1cef20 270deg,#15ec27 275deg,#14db35 280deg,#14c248 285deg,#14e62c 290deg,#1df01f 295deg,#28f514 300deg,#48f214 305deg,#6feb14 310deg,#a0e114 315deg,#c6d70a 320deg,#dac80a 325deg,#eab711 330deg,#f4a819 335deg,#fb9720 340deg,#fd8224 345deg,#ff6e28 350deg,#fd512e 355deg,#fb382e 360deg)"></div>
<div class="d" style="left:197.50px;top:137.70px;width:125.00px;height:125.00px;background:conic-gradient(#fb382e 0deg,#fb382e 5deg,#fb382e 10deg,#fb382e 15deg,#fb382e 20deg,#fb382e 25deg,#fb382e 30deg,#fb3a2e 35deg,#fb3c2f 40deg,#fb3d2f 45deg,#fc412f 50deg,#fc4530 55deg,#fc4a30 60deg,#fc4a30 65deg,#fc4a30 70deg,#fc4a30 75deg,#fc4a30 80deg,#fc4b2f 85deg,#fc4b2f 90deg,#fc4d2f 95deg,#fd4f2f 100deg,#fd512e 105deg,#fd512e 110deg,#fd512e 115deg,#fd512e 120deg,#fd532e 125deg,#fd552d 130deg,#fd572d 135deg,#fd502e 140deg,#fc4930 145deg,#fc4430 150deg,#fb3c2f 155deg,#fb342e 160deg,#fa2d2d 165deg,#fa2d2d 170deg,#fa2d2d 175deg,#fa2d2d 180deg,#fa2d2d 185deg,#fa2e2d 190deg,#fa322e 195deg,#fc4430 200deg,#fe672a 205deg,#fd8224 210deg,#d0d00a 215deg,#40f314 220deg,#23f319 225deg,#1bee21 230deg,#14e52c 235deg,#14cb41 240deg,#14d838 245deg,#14e130 250deg,#14eb28 255deg,#17ec25 260deg,#19ee23 265deg,#1cef20 270deg,#15ec27 275deg,#14dc34 280deg,#14c446 285deg,#14e72c 290deg,#1df01f 295deg,#28f514 300deg,#48f214 305deg,#6feb14 310deg,#a0e114 315deg,#c7d70a 320deg,#dcc70a 325deg,#ecb313 330deg,#f8a31c 335deg,#fc8e22 340deg,#fe7826 345deg,#fe642a 350deg,#fc4c2f 355deg,#fb382e 360deg)"></div>
<div class="d" style="left:199.00px;top:139.20px;width:122.00px;height:122.00px;background:conic-gradient(#fb382e 0deg,#fb382e 5deg,#fb382e 10deg,#fb382e 15deg,#fb382e 20deg,#fb382e 25deg,#fb382e 30deg,#fb3a2e 35deg,#fb3b2f 40deg,#fb3c2f 45deg,#fb402f 50deg,#fc4430 55deg,#fc4830 60deg,#fc4830 65deg,#fc4830 70deg,#fc4830 75deg,#fc4830 80deg,#fc4930 85deg,#fc4930 90deg,#fc4c2f 95deg,#fc4e2f 100deg,#fd512e 105deg,#fd512e 110deg,#fd512e 115deg,#fd512e 120deg,#fd522e 125deg,#fd542d 130deg,#fd562d 135deg,#fd4f2f 140deg,#fc4930 145deg,#fc4430 150deg,#fb3c2f 155deg,#fb342e 160deg,#fa2d2d 165deg,#fa2d2d 170deg,#fa2d2d 175deg,#fa2d2d 180deg,#fa2d2d 185deg,#fa2e2d 190deg,#fa322e 195deg,#fc4430 200deg,#fe672a 205deg,#fd8224 210deg,#d0d00a 215deg,#40f314 220deg,#23f319 225deg,#1bee21 230deg,#14e52c 235deg,#14cb41 240deg,#14d838 245deg,#14e130 250deg,#14eb28 255deg,#17ec25 260deg,#1aee22 265deg,#1cef20 270deg,#16ec26 275deg,#14dd33 280deg,#14c645 285deg,#14e72b 290deg,#1df01f 295deg,#28f514 300deg,#48f214 305deg,#6feb14 310deg,#a0e114 315deg,#c8d70a 320deg,#dfc50a 325deg,#f0af16 330deg,#faa01e 335deg,#fc8c22 340deg,#fe7826 345deg,#fe642a 350deg,#fc4c2f 355deg,#fb382e 360deg)"></div>
<div class="d" style="left:200.50px;top:140.70px;width:119.00px;height:119.00px;background:conic-gradient(#fb382e 0deg,#fb382e 5deg,#fb382e 10deg,#fb382e 15deg,#fb382e 20deg,#fb382e 25deg,#fb382e 30deg,#fb392e 35deg,#fb3a2e 40deg,#fb3b2f 45deg,#fb3f2f 50deg,#fc432f 55deg,#fc4730 60deg,#fc4730 65deg,#fc4730 70deg,#fc4730 75deg,#fc4730 80deg,#fc4730 85deg,#fc4730 90deg,#fc4a30 95deg,#fc4e2f 100deg,#fd512e 105deg,#fd512e 110deg,#fd512e 115deg,#fd512e 120deg,#fd522e 125deg,#fd532e 130deg,#fd542d 135deg,#fc4e2f 140deg,#fc4830 145deg,#fc4430 150deg,#fb3c2f 155deg,#fb342e 160deg,#fa2d2d 165deg,#fa2d2d 170deg,#fa2d2d 175deg,#fa2d2d 180deg,#fa2d2d 185deg,#fa2e2d 190deg,#fa322e 195deg,#fc4430 200deg,#fe672a 205deg,#fd8224 210deg,#d0d00a 215deg,#40f314 220deg,#23f319 225deg,#1bee21 230deg,#14e52c 235deg,#14cb41 240deg,#14d838 245deg,#14e130 250deg,#14eb28 255deg,#17ec25 260deg,#1aee22 265deg,#1def1f 270deg,#16ec26 275deg,#14de33 280deg,#14c744 285deg,#14e82a 290deg,#1df01f 295deg,#28f514 300deg,#48f214 305deg,#6feb14 310deg,#a0e114 315deg,#c8d70a 320deg,#e1c30a 325deg,#f2aa18 330deg,#fa9d1f 335deg,#fc8a22 340deg,#fe7826 345deg,#fe642a 350deg,#fc4c2f 355deg,#fb382e 360deg)"></div>
<div class="d" style="left:202.00px;top:142.20px;width:116.00px;height:116.00px;background:conic-gradient(#fb382e 0deg,#fb382e 5deg,#fb382e 10deg,#fb382e 15deg,#fb382e 20deg,#fb382e 25deg,#fb382e 30deg,#fb392e 35deg,#fb392e 40deg,#fb3a2e 45deg,#fb3e2f 50deg,#fc422f 55deg,#fc4530 60deg,#fc4530 65deg,#fc4530 70deg,#fc4530 75deg,#fc4630 80deg,#fc4630 85deg,#fc4630 90deg,#fc4930 95deg,#fc4d2f 100deg,#fd512e 105deg,#fd512e 110deg,#fd512e 115deg,#fd512e 120deg,#fd512e 125deg,#fd522e 130deg,#fd532e 135deg,#fc4d2f 140deg,#fc4830 145deg,#fc4430 150deg,#fb3c2f 155deg,#fb342e 160deg,#fa2d2d 165deg,#fa2d2d 170deg,#fa2d2d 175deg,#fa2d2d 180deg,#fa2d2d 185deg,#fa2e2d 190deg,#fa322e 195deg,#fc4430 200deg,#fe672a 205deg,#fd8224 210deg,#d0d00a 215deg,#40f314 220deg,#23f319 225deg,#1bee21 230deg,#14e52c 235deg,#14cb41 240deg,#14d838 245deg,#14e130 250deg,#14eb28 255deg,#17ec25 260deg,#1aee22 265deg,#1def1f 270deg,#16ec26 275deg,#14df32 280deg,#14c943 285deg,#14e92a 290deg,#1ef01e 295deg,#28f514 300deg,#48f214 305deg,#6feb14 310deg,#a0e114 315deg,#c9d60a 320deg,#e2c10b 325deg,#f6a61a 330deg,#fb991f 335deg,#fc8823 340deg,#fe7826 345deg,#fe642a 350deg,#fc4c2f 355deg,#fb382e 360deg)"></div>
<div class="d" style="left:203.50px;top:143.70px;width:113.00px;height:113.00px;background:conic-gradient(#fb382e 0deg,#fb382e 5deg,#fb382e 10deg,#fb382e 15deg,#fb382e 20deg,#fb382e 25deg,#fb382e 30deg,#fb382e 35deg,#fb392e 40deg,#fb392e 45deg,#fb3d2f 50deg,#fb402f 55deg,#fc4430 60deg,#fc4430 65deg,#fc4430 70deg,#fc4430 75deg,#fc4430 80deg,#fc4430 85deg,#fc4430 90deg,#fc4830 95deg,#fc4c2f 100deg,#fd512e 105deg,#fd512e 110deg,#fd512e 115deg,#fd512e 120deg,#fd512e 125deg,#fd512e 130deg,#fd512e 135deg,#fc4c2f 140deg,#fc4730 145deg,#fc4430 150deg,#fb3c2f 155deg,#fb342e 160deg,#fa2d2d 165deg,#fa2d2d 170deg,#fa2d2d 175deg,#fa2d2d 180deg,#fa2d2d 185deg,#fa2e2d 190deg,#fa322e 195deg,#fc4430 200deg,#fe672a 205deg,#fd8224 210deg,#d0d00a 215deg,#40f314 220deg,#23f319 225deg,#1bee21 230deg,#14e52c 235deg,#14cb41 240deg,#14d838 245deg,#14e130 250deg,#14eb28 255deg,#17ed25 260deg,#1aee22 265deg,#1df01f 270deg,#16ec26 275deg,#14df31 280deg,#14cb42 285deg,#14e929 290deg,#1ef01e 295deg,#28f514 300deg,#48f214 305deg,#6feb14 310deg,#a0e114 315deg,#c9d60a 320deg,#e3c00c 325deg,#f8a21d 330deg,#fb9520 335deg,#fd8623 340deg,#fe7826 345deg,#fe642a 350deg,#fc4c2f 355deg,#fb382e 360deg)"></div>
<svg class="ov" width="558" height="546" viewBox="0 0 558 546">
<circle cx="260.0" cy="200.2" r="160.4" fill="none" stroke="#5a8f9a" stroke-width="1"/>
<polygon points="175.6,183.2 176.5,177.6 179.7,172.7 184.5,167.9 191.0,162.3 197.4,156.6 201.5,151.0 204.7,146.1 211.9,143.7 223.2,142.1 242.6,141.0 255.0,140.5 263.8,141.0 269.7,145.4 275.5,147.6 288.7,148.3 297.5,151.2 306.3,157.1 313.6,165.2 319.5,172.5 323.9,179.8 326.8,188.6 327.5,195.9 327.4,204.3 326.6,212.1 324.3,221.5 321.9,230.8 317.3,240.1 309.5,249.5 301.7,255.7 293.9,260.4 286.1,265.0 278.3,269.7 270.6,272.0 259.7,272.8 242.6,270.8 229.7,269.2 218.4,266.8 207.1,262.7 199.0,257.9 191.0,251.5 184.5,243.4 179.7,233.7 177.3,224.0 176.5,211.1 176.5,195.0" fill="#808080" stroke="#b02828" stroke-width="1"/>
<polygon points="234.8,186.0 226.0,192.0 224.8,204.7 225.6,220.8 229.7,225.6 236.1,228.9 244.2,228.1 250.6,223.2 255.5,214.4 257.9,204.7 257.3,201.4 255.7,197.0 248.0,192.6 241.4,188.7" fill="#d4d4d4" stroke="#90e090" stroke-width="1.2"/>
<polygon points="234.8,186.0 226.0,192.0 224.8,204.7 225.6,220.8 229.7,225.6 236.1,228.9 244.2,228.1 250.6,223.2 255.5,214.4 257.9,204.7 257.3,201.4 255.7,197.0 248.0,192.6 241.4,188.7" fill="none" stroke="#2a8a2a" stroke-width="1.2" stroke-dasharray="3 2"/>
<circle cx="260.0" cy="200.2" r="100" fill="none" stroke="#ffffff" stroke-opacity="0.82" stroke-width="1.3"/>
<circle cx="260.0" cy="200.2" r="112" fill="none" stroke="#ffffff" stroke-opacity="0.82" stroke-width="1.3"/>
<circle cx="260.0" cy="200.2" r="124" fill="none" stroke="#ffffff" stroke-opacity="0.82" stroke-width="1.3"/>
<circle cx="260.0" cy="200.2" r="148" fill="none" stroke="#ffffff" stroke-opacity="0.82" stroke-width="1.3"/>
<circle cx="260.0" cy="200.2" r="136" fill="none" stroke="#a2303a" stroke-width="1.3"/>
<line x1="260.0" y1="200.2" x2="396.00" y2="200.20" stroke="#ffffff" stroke-opacity="0.85" stroke-width="1"/>
<line x1="260.0" y1="200.2" x2="391.37" y2="165.00" stroke="#ffffff" stroke-opacity="0.85" stroke-width="1"/>
<line x1="260.0" y1="200.2" x2="377.78" y2="132.20" stroke="#ffffff" stroke-opacity="0.85" stroke-width="1"/>
<line x1="260.0" y1="200.2" x2="356.17" y2="104.03" stroke="#ffffff" stroke-opacity="0.85" stroke-width="1"/>
<line x1="260.0" y1="200.2" x2="328.00" y2="82.42" stroke="#ffffff" stroke-opacity="0.85" stroke-width="1"/>
<line x1="260.0" y1="200.2" x2="295.20" y2="68.83" stroke="#ffffff" stroke-opacity="0.85" stroke-width="1"/>
<line x1="260.0" y1="200.2" x2="224.80" y2="68.83" stroke="#ffffff" stroke-opacity="0.85" stroke-width="1"/>
<line x1="260.0" y1="200.2" x2="192.00" y2="82.42" stroke="#ffffff" stroke-opacity="0.85" stroke-width="1"/>
<line x1="260.0" y1="200.2" x2="163.83" y2="104.03" stroke="#ffffff" stroke-opacity="0.85" stroke-width="1"/>
<line x1="260.0" y1="200.2" x2="142.22" y2="132.20" stroke="#ffffff" stroke-opacity="0.85" stroke-width="1"/>
<line x1="260.0" y1="200.2" x2="128.63" y2="165.00" stroke="#ffffff" stroke-opacity="0.85" stroke-width="1"/>
<line x1="260.0" y1="200.2" x2="124.00" y2="200.20" stroke="#ffffff" stroke-opacity="0.85" stroke-width="1"/>
<line x1="260.0" y1="200.2" x2="128.63" y2="235.40" stroke="#ffffff" stroke-opacity="0.85" stroke-width="1"/>
<line x1="260.0" y1="200.2" x2="142.22" y2="268.20" stroke="#ffffff" stroke-opacity="0.85" stroke-width="1"/>
<line x1="260.0" y1="200.2" x2="163.83" y2="296.37" stroke="#ffffff" stroke-opacity="0.85" stroke-width="1"/>
<line x1="260.0" y1="200.2" x2="192.00" y2="317.98" stroke="#ffffff" stroke-opacity="0.85" stroke-width="1"/>
<line x1="260.0" y1="200.2" x2="224.80" y2="331.57" stroke="#ffffff" stroke-opacity="0.85" stroke-width="1"/>
<line x1="260.0" y1="200.2" x2="295.20" y2="331.57" stroke="#ffffff" stroke-opacity="0.85" stroke-width="1"/>
<line x1="260.0" y1="200.2" x2="328.00" y2="317.98" stroke="#ffffff" stroke-opacity="0.85" stroke-width="1"/>
<line x1="260.0" y1="200.2" x2="356.17" y2="296.37" stroke="#ffffff" stroke-opacity="0.85" stroke-width="1"/>
<line x1="260.0" y1="200.2" x2="377.78" y2="268.20" stroke="#ffffff" stroke-opacity="0.85" stroke-width="1"/>
<line x1="260.0" y1="200.2" x2="391.37" y2="235.40" stroke="#ffffff" stroke-opacity="0.85" stroke-width="1"/>
<line x1="260.0" y1="64.2" x2="260.0" y2="336.2" stroke="#a83a30" stroke-width="1.6"/>
<circle cx="260.0" cy="200.2" r="2.6" fill="#ffffff"/>
<text x="213.6" y="15.7" class="seg">ST1</text>
<text x="295.5" y="16.3" class="seg">SN1</text>
<text x="146.7" y="43.9" class="seg">ST2</text>
<text x="362.5" y="43.2" class="seg">SN2</text>
<text x="423.4" y="95.2" class="seg">NU2</text>
<text x="450.9" y="161.7" class="seg">NU1</text>
<text x="450.1" y="240.2" class="seg">NL1</text>
<text x="422.8" y="306.9" class="seg">NL2</text>
<text x="370.1" y="358.4" class="seg">IN2</text>
<text x="303.1" y="391.1" class="seg">IN1</text>
<text x="231.3" y="390.4" class="seg">IT1</text>
<text x="156.7" y="364.4" class="seg">IT2</text>
<text x="106.5" y="312.6" class="seg">TL2</text>
<text x="68.9" y="246.2" class="seg">TL1</text>
<text x="68.0" y="174.5" class="seg">TU1</text>
<text x="96.0" y="101.5" class="seg">TU2</text>
<path d="M75.20 200.55 A184.85 184.85 0 1 0 444.90 200.55 A184.85 184.85 0 1 0 75.20 200.55 Z M99.40 200.20 A160.60 160.60 0 1 0 420.60 200.20 A160.60 160.60 0 1 0 99.40 200.20 Z" fill="#fff" fill-rule="evenodd"/>
<path d="M330.89 32.02 A182.90 182.90 0 0 0 260.90 18.10 L260.90 36.60 A164.40 164.40 0 0 1 323.81 49.11 Z" fill="#00ff00"/>
<path d="M390.23 71.67 A182.90 182.90 0 0 0 330.89 32.02 L323.81 49.11 A164.40 164.40 0 0 1 377.15 84.75 Z" fill="#00ff00"/>
<path d="M429.88 131.01 A182.90 182.90 0 0 0 390.23 71.67 L377.15 84.75 A164.40 164.40 0 0 1 412.79 138.09 Z" fill="#00ff00"/>
<path d="M443.80 201.00 A182.90 182.90 0 0 0 429.88 131.01 L412.79 138.09 A164.40 164.40 0 0 1 425.30 201.00 Z" fill="#00ff00"/>
<path d="M429.88 270.99 A182.90 182.90 0 0 0 443.80 201.00 L425.30 201.00 A164.40 164.40 0 0 1 412.79 263.91 Z" fill="#00ff00"/>
<path d="M390.23 330.33 A182.90 182.90 0 0 0 429.88 270.99 L412.79 263.91 A164.40 164.40 0 0 1 377.15 317.25 Z" fill="#00ff00"/>
<path d="M330.89 369.98 A182.90 182.90 0 0 0 390.23 330.33 L377.15 317.25 A164.40 164.40 0 0 1 323.81 352.89 Z" fill="#00ff00"/>
<path d="M260.90 383.90 A182.90 182.90 0 0 0 330.89 369.98 L323.81 352.89 A164.40 164.40 0 0 1 260.90 365.40 Z" fill="#00ff00"/>
<path d="M190.91 369.98 A182.90 182.90 0 0 0 260.90 383.90 L260.90 365.40 A164.40 164.40 0 0 1 197.99 352.89 Z" fill="#ffff00"/>
<path d="M131.57 330.33 A182.90 182.90 0 0 0 190.91 369.98 L197.99 352.89 A164.40 164.40 0 0 1 144.65 317.25 Z" fill="#ff0000"/>
<path d="M91.92 270.99 A182.90 182.90 0 0 0 131.57 330.33 L144.65 317.25 A164.40 164.40 0 0 1 109.01 263.91 Z" fill="#ffff00"/>
<path d="M78.00 201.00 A182.90 182.90 0 0 0 91.92 270.99 L109.01 263.91 A164.40 164.40 0 0 1 96.50 201.00 Z" fill="#ff0000"/>
<path d="M91.92 131.01 A182.90 182.90 0 0 0 78.00 201.00 L96.50 201.00 A164.40 164.40 0 0 1 109.01 138.09 Z" fill="#ff0000"/>
<path d="M131.57 71.67 A182.90 182.90 0 0 0 91.92 131.01 L109.01 138.09 A164.40 164.40 0 0 1 144.65 84.75 Z" fill="#ff0000"/>
<path d="M190.91 32.02 A182.90 182.90 0 0 0 131.57 71.67 L144.65 84.75 A164.40 164.40 0 0 1 197.99 49.11 Z" fill="#ff0000"/>
<path d="M260.90 18.10 A182.90 182.90 0 0 0 190.91 32.02 L197.99 49.11 A164.40 164.40 0 0 1 260.90 36.60 Z" fill="#ffff00"/>
<line x1="424.30" y1="201.00" x2="444.75" y2="201.00" stroke="#2f6666" stroke-width="1"/>
<line x1="411.86" y1="138.47" x2="430.76" y2="130.64" stroke="#2f6666" stroke-width="1"/>
<line x1="376.44" y1="85.46" x2="390.90" y2="71.00" stroke="#2f6666" stroke-width="1"/>
<line x1="323.43" y1="50.04" x2="331.26" y2="31.14" stroke="#2f6666" stroke-width="1"/>
<line x1="260.90" y1="37.60" x2="260.90" y2="17.15" stroke="#2f6666" stroke-width="1"/>
<line x1="198.37" y1="50.04" x2="190.54" y2="31.14" stroke="#2f6666" stroke-width="1"/>
<line x1="145.36" y1="85.46" x2="130.90" y2="71.00" stroke="#2f6666" stroke-width="1"/>
<line x1="109.94" y1="138.47" x2="91.04" y2="130.64" stroke="#2f6666" stroke-width="1"/>
<line x1="97.50" y1="201.00" x2="77.05" y2="201.00" stroke="#2f6666" stroke-width="1"/>
<line x1="109.94" y1="263.53" x2="91.04" y2="271.36" stroke="#2f6666" stroke-width="1"/>
<line x1="145.36" y1="316.54" x2="130.90" y2="331.00" stroke="#2f6666" stroke-width="1"/>
<line x1="198.37" y1="351.96" x2="190.54" y2="370.86" stroke="#2f6666" stroke-width="1"/>
<line x1="260.90" y1="364.40" x2="260.90" y2="384.85" stroke="#2f6666" stroke-width="1"/>
<line x1="323.43" y1="351.96" x2="331.26" y2="370.86" stroke="#2f6666" stroke-width="1"/>
<line x1="376.44" y1="316.54" x2="390.90" y2="331.00" stroke="#2f6666" stroke-width="1"/>
<line x1="411.86" y1="263.53" x2="430.76" y2="271.36" stroke="#2f6666" stroke-width="1"/>
<circle cx="260.05" cy="200.55" r="184.35" fill="none" stroke="#3c8888" stroke-width="1"/>
<text x="292.6" y="35.0" class="num">111</text>
<text x="356.0" y="60.6" class="num">107</text>
<text x="404.1" y="109.3" class="num">94</text>
<text x="429.3" y="171.1" class="num">67</text>
<text x="429.3" y="239.4" class="num">67</text>
<text x="403.9" y="301.0" class="num">97</text>
<text x="355.3" y="349.1" class="num">116</text>
<text x="293.9" y="374.8" class="num">123</text>
<text x="225.9" y="375.1" class="num">120</text>
<text x="163.7" y="349.0" class="num">73</text>
<text x="115.2" y="300.8" class="num">52</text>
<text x="90.2" y="239.6" class="num">44</text>
<text x="90.2" y="171.9" class="num">45</text>
<text x="115.6" y="109.7" class="num">53</text>
<text x="163.4" y="60.6" class="num">64</text>
<text x="226.4" y="35.0" class="num">104</text>
<text x="176.9" y="17.6" class="sec" textLength="16.7" lengthAdjust="spacingAndGlyphs">ST</text>
<text x="334.4" y="18.0" class="sec" textLength="18.4" lengthAdjust="spacingAndGlyphs">SN</text>
<text x="447.8" y="123.8" class="sec" textLength="18.1" lengthAdjust="spacingAndGlyphs">NU</text>
<text x="447.2" y="279.8" class="sec" textLength="17.0" lengthAdjust="spacingAndGlyphs">NL</text>
<text x="340.2" y="392.2" class="sec" textLength="14.0" lengthAdjust="spacingAndGlyphs">IN</text>
<text x="185.1" y="392.6" class="sec" textLength="12.3" lengthAdjust="spacingAndGlyphs">IT</text>
<text x="72.0" y="287.5" class="sec" textLength="15.6" lengthAdjust="spacingAndGlyphs">TL</text>
<text x="72.0" y="131.0" class="sec" textLength="15.6" lengthAdjust="spacingAndGlyphs">TU</text>
</svg>
<div class="cb" style="background:linear-gradient(to bottom,rgb(250,45,45) 0.00%,rgb(252,72,48) 4.80%,rgb(255,110,40) 10.00%,rgb(250,160,30) 20.00%,rgb(225,195,10) 30.00%,rgb(200,215,10) 36.00%,rgb(160,225,20) 40.00%,rgb(90,240,20) 44.80%,rgb(40,245,20) 50.00%,rgb(20,235,40) 55.20%,rgb(20,210,60) 57.60%,rgb(20,170,90) 60.00%,rgb(20,140,110) 62.00%,rgb(20,100,150) 65.20%,rgb(15,60,170) 67.20%,rgb(10,20,210) 70.00%,rgb(22,18,188) 72.80%,rgb(31,20,166) 75.20%,rgb(40,29,140) 77.60%,rgb(50,44,105) 80.00%,rgb(70,68,90) 83.20%,rgb(85,85,85) 86.00%,rgb(55,55,55) 90.00%,rgb(25,25,25) 96.00%,rgb(0,0,0) 100.00%)"></div>
<div class="tk" style="left:503px;top:8px;width:10px"></div>
<div class="cl" style="top:2.5px">250</div>
<div class="tk" style="left:503px;top:46px;width:5px"></div>
<div class="tk" style="left:503px;top:85px;width:10px"></div>
<div class="cl" style="top:79.6px">200</div>
<div class="tk" style="left:503px;top:123px;width:5px"></div>
<div class="tk" style="left:503px;top:162px;width:10px"></div>
<div class="cl" style="top:156.7px">150</div>
<div class="tk" style="left:503px;top:200px;width:5px"></div>
<div class="tk" style="left:503px;top:239px;width:10px"></div>
<div class="cl" style="top:233.8px">100</div>
<div class="tk" style="left:503px;top:277px;width:5px"></div>
<div class="tk" style="left:503px;top:316px;width:10px"></div>
<div class="cl" style="top:310.9px">50</div>
<div class="tk" style="left:503px;top:354px;width:5px"></div>
<div class="tk" style="left:503px;top:393px;width:10px"></div>
<div class="cl" style="top:388.0px">0</div>
<div style="position:absolute;left:544.2px;top:194.8px;font-size:11px;line-height:11px;transform:rotate(-90deg);transform-origin:center;width:14px;height:11px;text-align:center">&micro;m</div>
<div class="lg" style="top:346.2px;height:19.1px;background:#00ff00">p&gt;5% Within Normal</div>
<div class="lg" style="top:365.3px;height:19.8px;background:#ffff00">p&lt;5% Borderline</div>
<div class="lg" style="top:385.1px;height:19px;background:#ff0000;color:#5a0000">p&lt;1% Outside Normal</div>
<div style="position:absolute;left:31.3px;top:406.3px;font-size:10.6px;line-height:13px;color:#111">RNFL Thickness on Diameter 3.45mm</div>
<svg class="ov" width="558" height="546" viewBox="0 0 558 546">
<path d="M70.7 527.3 L70.70 493.00 L71.32 492.76 L72.11 492.45 L73.06 492.08 L74.12 491.66 L75.27 491.21 L76.45 490.75 L77.64 490.27 L78.80 489.81 L79.90 489.37 L80.96 488.94 L82.04 488.52 L83.12 488.09 L84.21 487.65 L85.30 487.21 L86.40 486.76 L87.50 486.29 L88.60 485.82 L89.70 485.34 L90.80 484.85 L91.90 484.36 L93.00 483.87 L94.10 483.37 L95.20 482.86 L96.30 482.32 L97.40 481.75 L98.50 481.14 L99.60 480.49 L100.69 479.78 L101.78 479.01 L102.87 478.19 L103.96 477.34 L105.04 476.48 L106.13 475.62 L107.22 474.78 L108.31 473.98 L109.40 473.23 L110.53 472.52 L111.71 471.82 L112.91 471.14 L114.12 470.48 L115.30 469.84 L116.43 469.23 L117.49 468.64 L118.46 468.09 L119.30 467.58 L120.67 466.60 L121.55 465.79 L122.30 465.08 L123.30 464.35 L124.30 463.81 L125.34 463.35 L126.47 462.87 L127.74 462.29 L129.20 461.53 L130.12 461.00 L131.11 460.39 L132.17 459.74 L133.28 459.04 L134.42 458.32 L135.58 457.58 L136.74 456.86 L137.89 456.15 L139.00 455.48 L140.11 454.82 L141.23 454.15 L142.37 453.47 L143.50 452.81 L144.63 452.15 L145.74 451.52 L146.83 450.91 L147.89 450.35 L148.90 449.83 L150.13 449.21 L151.30 448.64 L152.43 448.11 L153.52 447.63 L154.60 447.22 L155.69 446.87 L156.80 446.60 L157.95 446.42 L159.13 446.32 L160.32 446.29 L161.50 446.32 L162.63 446.39 L163.71 446.49 L164.70 446.60 L165.92 446.79 L166.98 447.05 L167.97 447.37 L168.95 447.76 L170.00 448.21 L171.04 448.72 L172.02 449.27 L173.05 449.90 L174.27 450.62 L175.80 451.44 L176.61 451.88 L177.48 452.39 L178.41 452.94 L179.38 453.52 L180.39 454.12 L181.45 454.71 L182.55 455.29 L183.67 455.83 L184.83 456.33 L186.00 456.75 L187.20 457.09 L188.10 457.29 L189.03 457.45 L189.98 457.58 L190.96 457.67 L191.96 457.75 L192.98 457.80 L194.01 457.84 L195.05 457.86 L196.09 457.87 L197.14 457.87 L198.18 457.87 L199.23 457.87 L200.26 457.87 L201.29 457.88 L202.30 457.90 L203.31 457.91 L204.34 457.91 L205.38 457.90 L206.42 457.87 L207.47 457.84 L208.51 457.80 L209.56 457.76 L210.59 457.73 L211.61 457.70 L212.62 457.69 L213.61 457.69 L214.58 457.70 L215.52 457.74 L216.43 457.81 L217.30 457.90 L218.55 458.08 L219.75 458.30 L220.89 458.55 L221.99 458.84 L223.04 459.16 L224.07 459.51 L225.07 459.88 L226.06 460.27 L227.03 460.69 L228.00 461.13 L229.18 461.70 L230.32 462.30 L231.41 462.94 L232.48 463.62 L233.53 464.34 L234.58 465.11 L235.63 465.92 L236.70 466.77 L237.77 467.70 L238.81 468.69 L239.84 469.75 L240.87 470.84 L241.93 471.95 L243.00 473.06 L244.13 474.17 L245.30 475.25 L246.28 476.11 L247.30 476.99 L248.35 477.89 L249.42 478.79 L250.51 479.69 L251.61 480.57 L252.72 481.42 L253.82 482.23 L254.92 483.01 L256.00 483.72 L257.08 484.39 L258.16 485.02 L259.24 485.61 L260.32 486.17 L261.40 486.70 L262.48 487.20 L263.56 487.67 L264.64 488.12 L265.72 488.56 L266.80 488.97 L267.86 489.36 L268.90 489.72 L269.94 490.06 L270.96 490.38 L271.99 490.67 L273.04 490.94 L274.10 491.18 L275.20 491.41 L276.33 491.61 L277.50 491.79 L278.44 491.92 L279.43 492.04 L280.44 492.14 L281.49 492.23 L282.54 492.31 L283.61 492.38 L284.69 492.43 L285.76 492.47 L286.81 492.49 L287.86 492.50 L288.87 492.48 L289.86 492.45 L290.80 492.40 L291.97 492.30 L293.10 492.17 L294.20 492.00 L295.26 491.81 L296.31 491.59 L297.34 491.35 L298.36 491.08 L299.40 490.80 L300.44 490.50 L301.50 490.18 L302.58 489.85 L303.66 489.50 L304.74 489.15 L305.82 488.77 L306.90 488.36 L307.98 487.94 L309.06 487.48 L310.14 486.99 L311.22 486.47 L312.30 485.90 L313.38 485.31 L314.45 484.71 L315.53 484.08 L316.61 483.42 L317.68 482.73 L318.75 481.99 L319.82 481.21 L320.89 480.36 L321.95 479.46 L323.00 478.48 L324.04 477.38 L325.07 476.14 L326.09 474.80 L327.11 473.40 L328.12 471.96 L329.13 470.53 L330.16 469.14 L331.19 467.82 L332.24 466.62 L333.30 465.56 L334.29 464.73 L335.29 463.97 L336.30 463.28 L337.32 462.66 L338.35 462.08 L339.39 461.54 L340.42 461.04 L341.45 460.55 L342.48 460.07 L343.49 459.60 L344.50 459.11 L345.60 458.59 L346.69 458.10 L347.77 457.65 L348.85 457.23 L349.93 456.81 L351.01 456.41 L352.08 456.00 L353.15 455.58 L354.23 455.14 L355.30 454.67 L356.37 454.17 L357.44 453.66 L358.51 453.13 L359.58 452.59 L360.65 452.05 L361.72 451.50 L362.79 450.96 L363.86 450.43 L364.93 449.92 L366.00 449.42 L367.08 448.94 L368.17 448.45 L369.27 447.97 L370.37 447.49 L371.46 447.03 L372.55 446.58 L373.64 446.14 L374.71 445.73 L375.76 445.34 L376.80 444.99 L377.92 444.62 L379.01 444.27 L380.08 443.94 L381.13 443.64 L382.18 443.36 L383.23 443.12 L384.30 442.90 L385.38 442.72 L386.50 442.56 L387.51 442.46 L388.51 442.37 L389.50 442.31 L390.50 442.27 L391.51 442.26 L392.56 442.27 L393.64 442.31 L394.76 442.37 L395.95 442.46 L397.20 442.56 L398.09 442.65 L399.03 442.74 L400.01 442.85 L401.03 442.96 L402.07 443.08 L403.13 443.22 L404.21 443.36 L405.29 443.52 L406.37 443.69 L407.43 443.87 L408.47 444.06 L409.49 444.27 L410.47 444.50 L411.41 444.73 L412.30 444.99 L413.55 445.39 L414.72 445.81 L415.83 446.25 L416.89 446.73 L417.92 447.23 L418.92 447.78 L419.92 448.36 L420.92 448.99 L421.95 449.66 L423.00 450.39 L424.10 451.21 L425.25 452.11 L426.42 453.09 L427.60 454.13 L428.76 455.19 L429.90 456.25 L430.99 457.30 L432.02 458.31 L432.96 459.26 L433.80 460.12 L435.42 461.97 L436.56 463.57 L437.55 465.07 L438.70 466.61 L439.72 467.83 L440.72 468.96 L441.78 470.13 L443.01 471.44 L444.50 472.99 L445.38 473.90 L446.34 474.91 L447.38 475.99 L448.46 477.12 L449.59 478.27 L450.75 479.44 L451.91 480.59 L453.07 481.70 L454.20 482.75 L455.30 483.72 L456.37 484.63 L457.44 485.52 L458.51 486.39 L459.58 487.22 L460.65 488.02 L461.72 488.79 L462.79 489.51 L463.86 490.19 L464.93 490.82 L466.00 491.39 L467.09 491.91 L468.19 492.37 L469.30 492.78 L470.42 493.15 L471.53 493.48 L472.63 493.77 L473.72 494.03 L474.78 494.25 L475.81 494.44 L476.80 494.62 L478.00 494.78 L479.16 494.87 L480.30 494.91 L481.39 494.89 L482.45 494.85 L483.48 494.78 L484.46 494.70 L485.40 494.62 L486.63 494.47 L487.84 494.26 L488.99 494.01 L490.01 493.76 L490.87 493.55 L491.50 493.41 L491.5 527.3 Z" fill="#00f000"/>
<path d="M70.7 527.3 L70.70 505.91 L71.25 505.86 L71.90 505.79 L72.63 505.72 L73.44 505.64 L74.32 505.56 L75.27 505.47 L76.27 505.37 L77.32 505.27 L78.41 505.16 L79.53 505.05 L80.68 504.94 L81.83 504.82 L83.00 504.69 L84.17 504.57 L85.32 504.44 L86.46 504.30 L87.58 504.17 L88.66 504.03 L89.70 503.90 L90.73 503.76 L91.77 503.61 L92.83 503.46 L93.90 503.30 L94.98 503.14 L96.07 502.98 L97.16 502.81 L98.24 502.64 L99.33 502.47 L100.41 502.30 L101.48 502.12 L102.54 501.94 L103.58 501.76 L104.61 501.58 L105.62 501.40 L106.61 501.21 L107.57 501.03 L108.50 500.85 L109.40 500.67 L110.67 500.41 L111.88 500.14 L113.05 499.88 L114.18 499.62 L115.27 499.36 L116.33 499.09 L117.36 498.82 L118.38 498.54 L119.38 498.26 L120.36 497.97 L121.34 497.67 L122.32 497.36 L123.30 497.04 L124.45 496.65 L125.58 496.25 L126.70 495.84 L127.79 495.42 L128.86 494.99 L129.92 494.55 L130.96 494.10 L131.99 493.64 L133.01 493.17 L134.01 492.69 L135.00 492.20 L136.07 491.64 L137.11 491.06 L138.13 490.46 L139.13 489.84 L140.12 489.22 L141.10 488.59 L142.07 487.97 L143.04 487.35 L144.02 486.74 L145.00 486.14 L146.12 485.48 L147.27 484.78 L148.43 484.08 L149.58 483.38 L150.72 482.71 L151.83 482.06 L152.89 481.47 L153.88 480.94 L154.80 480.49 L156.20 479.86 L157.34 479.40 L158.38 479.10 L159.45 478.93 L160.70 478.88 L161.73 478.93 L162.83 479.06 L163.98 479.26 L165.16 479.52 L166.34 479.82 L167.49 480.15 L168.60 480.49 L169.63 480.86 L170.59 481.28 L171.51 481.72 L172.46 482.20 L173.46 482.69 L174.56 483.20 L175.80 483.72 L176.62 484.08 L177.42 484.47 L178.22 484.90 L179.03 485.33 L179.89 485.77 L180.81 486.20 L181.82 486.61 L182.94 486.98 L184.19 487.31 L185.61 487.57 L187.20 487.76 L187.97 487.81 L188.81 487.84 L189.70 487.86 L190.63 487.86 L191.61 487.84 L192.63 487.81 L193.68 487.77 L194.77 487.72 L195.87 487.66 L197.00 487.59 L198.14 487.52 L199.30 487.44 L200.45 487.37 L201.61 487.29 L202.77 487.21 L203.91 487.14 L205.04 487.08 L206.15 487.02 L207.24 486.97 L208.30 486.93 L209.33 486.90 L210.31 486.89 L211.26 486.89 L212.16 486.91 L213.00 486.95 L214.31 487.04 L215.52 487.14 L216.65 487.27 L217.71 487.41 L218.71 487.56 L219.67 487.74 L220.58 487.93 L221.47 488.14 L222.35 488.37 L223.23 488.62 L224.12 488.89 L225.03 489.18 L225.97 489.49 L226.96 489.83 L228.00 490.18 L228.95 490.52 L229.90 490.89 L230.86 491.30 L231.82 491.73 L232.79 492.18 L233.77 492.65 L234.75 493.14 L235.74 493.63 L236.75 494.14 L237.76 494.64 L238.79 495.14 L239.83 495.63 L240.89 496.11 L241.97 496.58 L243.06 497.03 L244.17 497.45 L245.30 497.84 L246.24 498.15 L247.22 498.46 L248.22 498.76 L249.25 499.05 L250.31 499.35 L251.38 499.64 L252.46 499.92 L253.56 500.20 L254.66 500.47 L255.76 500.74 L256.85 501.00 L257.95 501.25 L259.03 501.49 L260.09 501.73 L261.14 501.96 L262.16 502.17 L263.16 502.38 L264.13 502.57 L265.06 502.76 L265.95 502.93 L266.80 503.09 L268.06 503.32 L269.20 503.53 L270.24 503.72 L271.20 503.88 L272.10 504.01 L272.97 504.12 L273.83 504.21 L274.70 504.27 L275.60 504.32 L276.56 504.34 L277.60 504.35 L278.74 504.33 L280.00 504.30 L280.84 504.27 L281.72 504.24 L282.64 504.20 L283.58 504.16 L284.55 504.11 L285.54 504.05 L286.55 503.98 L287.58 503.91 L288.63 503.83 L289.70 503.74 L290.77 503.64 L291.85 503.53 L292.94 503.41 L294.03 503.27 L295.12 503.13 L296.20 502.98 L297.28 502.81 L298.36 502.63 L299.42 502.43 L300.47 502.22 L301.50 502.00 L302.54 501.75 L303.59 501.48 L304.67 501.18 L305.76 500.85 L306.86 500.50 L307.97 500.14 L309.08 499.76 L310.19 499.37 L311.30 498.97 L312.40 498.57 L313.49 498.16 L314.57 497.76 L315.63 497.35 L316.66 496.96 L317.67 496.57 L318.65 496.20 L319.60 495.84 L320.52 495.50 L321.39 495.18 L322.22 494.88 L323.00 494.62 L324.43 494.13 L325.59 493.70 L326.54 493.34 L327.36 493.03 L328.12 492.74 L328.88 492.48 L329.70 492.23 L330.67 491.97 L331.85 491.69 L333.30 491.39 L334.06 491.24 L334.86 491.10 L335.71 490.97 L336.59 490.83 L337.52 490.70 L338.47 490.57 L339.45 490.44 L340.46 490.31 L341.49 490.18 L342.54 490.05 L343.60 489.91 L344.67 489.78 L345.76 489.64 L346.84 489.50 L347.93 489.35 L349.02 489.20 L350.10 489.04 L351.17 488.88 L352.23 488.71 L353.27 488.54 L354.30 488.35 L355.30 488.16 L356.35 487.95 L357.42 487.72 L358.51 487.49 L359.61 487.24 L360.72 486.99 L361.84 486.73 L362.96 486.46 L364.08 486.19 L365.19 485.92 L366.30 485.64 L367.40 485.36 L368.47 485.08 L369.53 484.80 L370.56 484.52 L371.57 484.25 L372.54 483.97 L373.48 483.71 L374.38 483.45 L375.23 483.19 L376.04 482.95 L376.80 482.71 L378.36 482.18 L379.68 481.66 L380.79 481.16 L381.74 480.67 L382.60 480.20 L383.40 479.74 L384.21 479.30 L385.05 478.88 L386.00 478.48 L387.00 478.09 L387.98 477.73 L388.95 477.39 L389.91 477.06 L390.89 476.75 L391.87 476.45 L392.88 476.17 L393.92 475.90 L395.00 475.65 L396.02 475.41 L397.08 475.15 L398.18 474.89 L399.30 474.63 L400.43 474.39 L401.55 474.19 L402.66 474.04 L403.75 473.95 L404.80 473.95 L405.80 474.04 L406.98 474.27 L408.10 474.61 L409.19 475.05 L410.24 475.58 L411.27 476.19 L412.30 476.88 L413.34 477.65 L414.40 478.48 L415.47 479.41 L416.55 480.49 L417.62 481.67 L418.70 482.90 L419.77 484.17 L420.85 485.43 L421.92 486.63 L423.00 487.76 L424.09 488.83 L425.19 489.90 L426.29 490.95 L427.39 491.98 L428.48 492.97 L429.56 493.91 L430.60 494.79 L431.60 495.58 L432.65 496.38 L433.59 497.06 L434.47 497.66 L435.37 498.20 L436.34 498.73 L437.43 499.27 L438.70 499.86 L439.53 500.24 L440.42 500.63 L441.35 501.03 L442.31 501.44 L443.32 501.85 L444.36 502.26 L445.42 502.66 L446.51 503.04 L447.61 503.40 L448.73 503.73 L449.86 504.04 L451.00 504.30 L451.90 504.48 L452.78 504.65 L453.66 504.79 L454.53 504.92 L455.41 505.03 L456.30 505.12 L457.21 505.21 L458.15 505.28 L459.11 505.35 L460.12 505.41 L461.18 505.47 L462.28 505.53 L463.45 505.59 L464.69 505.65 L466.00 505.71 L466.85 505.75 L467.76 505.79 L468.73 505.83 L469.76 505.86 L470.84 505.90 L471.95 505.93 L473.10 505.96 L474.27 505.99 L475.46 506.02 L476.67 506.04 L477.88 506.07 L479.09 506.09 L480.29 506.12 L481.47 506.14 L482.63 506.16 L483.76 506.18 L484.86 506.20 L485.91 506.22 L486.92 506.23 L487.86 506.25 L488.75 506.26 L489.56 506.28 L490.29 506.29 L490.94 506.31 L491.50 506.32 L491.5 527.3 Z" fill="#ffff00"/>
<path d="M70.7 527.3 L70.70 508.90 L71.25 508.85 L71.90 508.80 L72.63 508.74 L73.44 508.68 L74.32 508.61 L75.27 508.53 L76.27 508.45 L77.32 508.36 L78.41 508.28 L79.53 508.18 L80.68 508.09 L81.83 507.99 L83.00 507.89 L84.17 507.79 L85.32 507.69 L86.46 507.59 L87.58 507.49 L88.66 507.39 L89.70 507.29 L90.73 507.18 L91.77 507.08 L92.83 506.97 L93.90 506.86 L94.98 506.75 L96.07 506.63 L97.16 506.52 L98.24 506.40 L99.33 506.28 L100.41 506.16 L101.48 506.04 L102.54 505.92 L103.58 505.80 L104.61 505.68 L105.62 505.57 L106.61 505.45 L107.57 505.33 L108.50 505.22 L109.40 505.11 L110.67 504.96 L111.88 504.82 L113.05 504.69 L114.18 504.58 L115.27 504.46 L116.33 504.34 L117.36 504.22 L118.38 504.08 L119.38 503.93 L120.36 503.76 L121.34 503.57 L122.32 503.35 L123.30 503.09 L124.45 502.75 L125.58 502.36 L126.70 501.95 L127.79 501.51 L128.86 501.04 L129.92 500.55 L130.96 500.05 L131.99 499.54 L133.01 499.03 L134.01 498.51 L135.00 498.01 L136.07 497.44 L137.11 496.84 L138.13 496.23 L139.13 495.60 L140.12 494.97 L141.10 494.34 L142.07 493.73 L143.04 493.12 L144.02 492.54 L145.00 491.99 L146.11 491.40 L147.25 490.82 L148.39 490.25 L149.53 489.69 L150.65 489.16 L151.76 488.66 L152.82 488.18 L153.84 487.75 L154.80 487.35 L156.12 486.81 L157.31 486.31 L158.43 485.88 L159.51 485.55 L160.58 485.36 L161.70 485.34 L162.85 485.52 L163.99 485.90 L165.13 486.42 L166.28 487.01 L167.43 487.61 L168.60 488.16 L169.58 488.60 L170.51 489.05 L171.44 489.52 L172.40 489.98 L173.43 490.45 L174.55 490.92 L175.80 491.39 L176.62 491.70 L177.42 492.03 L178.22 492.37 L179.03 492.72 L179.89 493.07 L180.81 493.41 L181.82 493.72 L182.94 494.01 L184.19 494.26 L185.61 494.47 L187.20 494.62 L187.97 494.66 L188.81 494.69 L189.70 494.70 L190.63 494.71 L191.61 494.70 L192.63 494.68 L193.68 494.65 L194.77 494.61 L195.87 494.56 L197.00 494.51 L198.14 494.46 L199.30 494.41 L200.45 494.35 L201.61 494.29 L202.77 494.23 L203.91 494.18 L205.04 494.13 L206.15 494.08 L207.24 494.04 L208.30 494.01 L209.33 493.99 L210.31 493.98 L211.26 493.98 L212.16 493.99 L213.00 494.01 L214.31 494.07 L215.52 494.13 L216.65 494.20 L217.71 494.28 L218.71 494.37 L219.67 494.47 L220.58 494.59 L221.47 494.72 L222.35 494.87 L223.23 495.04 L224.12 495.23 L225.03 495.44 L225.97 495.68 L226.96 495.94 L228.00 496.23 L228.95 496.52 L229.90 496.84 L230.86 497.19 L231.82 497.58 L232.79 497.98 L233.77 498.41 L234.75 498.85 L235.74 499.29 L236.75 499.75 L237.76 500.21 L238.79 500.66 L239.83 501.11 L240.89 501.54 L241.97 501.96 L243.06 502.37 L244.17 502.74 L245.30 503.09 L246.24 503.36 L247.22 503.62 L248.22 503.87 L249.25 504.12 L250.31 504.37 L251.38 504.61 L252.46 504.84 L253.56 505.07 L254.66 505.29 L255.76 505.51 L256.85 505.72 L257.95 505.92 L259.03 506.12 L260.09 506.32 L261.14 506.51 L262.16 506.69 L263.16 506.87 L264.13 507.04 L265.06 507.21 L265.95 507.37 L266.80 507.53 L268.06 507.77 L269.20 508.00 L270.24 508.22 L271.20 508.43 L272.10 508.62 L272.97 508.80 L273.83 508.96 L274.70 509.10 L275.60 509.23 L276.56 509.34 L277.60 509.43 L278.74 509.50 L280.00 509.55 L280.84 509.57 L281.72 509.59 L282.64 509.60 L283.58 509.62 L284.55 509.63 L285.54 509.63 L286.55 509.63 L287.58 509.61 L288.63 509.60 L289.70 509.57 L290.77 509.53 L291.85 509.49 L292.94 509.43 L294.03 509.36 L295.12 509.28 L296.20 509.19 L297.28 509.08 L298.36 508.96 L299.42 508.82 L300.47 508.67 L301.50 508.50 L302.54 508.30 L303.59 508.08 L304.67 507.83 L305.76 507.55 L306.86 507.26 L307.97 506.94 L309.08 506.61 L310.19 506.27 L311.30 505.92 L312.40 505.56 L313.49 505.20 L314.57 504.84 L315.63 504.48 L316.66 504.12 L317.67 503.77 L318.65 503.44 L319.60 503.11 L320.52 502.80 L321.39 502.51 L322.22 502.24 L323.00 502.00 L324.43 501.55 L325.59 501.17 L326.54 500.83 L327.36 500.54 L328.12 500.26 L328.88 500.00 L329.70 499.74 L330.67 499.46 L331.85 499.16 L333.30 498.81 L334.06 498.65 L334.86 498.48 L335.71 498.31 L336.59 498.14 L337.52 497.97 L338.47 497.80 L339.45 497.63 L340.46 497.46 L341.49 497.28 L342.54 497.10 L343.60 496.92 L344.67 496.73 L345.76 496.54 L346.84 496.35 L347.93 496.15 L349.02 495.95 L350.10 495.74 L351.17 495.53 L352.23 495.31 L353.27 495.09 L354.30 494.86 L355.30 494.62 L356.35 494.35 L357.42 494.08 L358.51 493.79 L359.61 493.49 L360.72 493.17 L361.84 492.85 L362.96 492.53 L364.08 492.20 L365.19 491.86 L366.30 491.52 L367.40 491.18 L368.47 490.85 L369.53 490.52 L370.56 490.19 L371.57 489.87 L372.54 489.55 L373.48 489.25 L374.38 488.95 L375.23 488.67 L376.04 488.41 L376.80 488.16 L378.34 487.63 L379.59 487.15 L380.62 486.71 L381.50 486.31 L382.30 485.93 L383.08 485.58 L383.91 485.23 L384.86 484.88 L386.00 484.53 L386.91 484.27 L387.88 484.00 L388.90 483.72 L389.97 483.44 L391.07 483.16 L392.18 482.89 L393.30 482.64 L394.40 482.40 L395.49 482.19 L396.55 482.01 L397.56 481.86 L398.52 481.76 L399.40 481.70 L400.70 481.70 L401.89 481.79 L402.98 481.96 L404.00 482.20 L404.99 482.50 L405.96 482.87 L406.96 483.27 L408.00 483.72 L409.06 484.22 L410.10 484.79 L411.13 485.41 L412.17 486.08 L413.22 486.80 L414.30 487.55 L415.42 488.33 L416.60 489.13 L417.58 489.80 L418.59 490.51 L419.63 491.26 L420.70 492.03 L421.78 492.82 L422.87 493.61 L423.97 494.39 L425.08 495.17 L426.19 495.92 L427.30 496.63 L428.31 497.27 L429.32 497.92 L430.33 498.56 L431.36 499.19 L432.38 499.82 L433.42 500.43 L434.46 501.02 L435.51 501.59 L436.56 502.13 L437.63 502.63 L438.70 503.09 L439.68 503.48 L440.67 503.83 L441.65 504.16 L442.63 504.46 L443.62 504.75 L444.62 505.01 L445.64 505.25 L446.67 505.48 L447.71 505.70 L448.78 505.91 L449.88 506.12 L451.00 506.32 L451.90 506.47 L452.78 506.62 L453.66 506.75 L454.53 506.87 L455.41 506.99 L456.30 507.10 L457.21 507.20 L458.15 507.30 L459.11 507.39 L460.12 507.48 L461.18 507.57 L462.28 507.66 L463.45 507.75 L464.69 507.84 L466.00 507.93 L466.85 507.99 L467.76 508.05 L468.73 508.10 L469.76 508.16 L470.84 508.22 L471.95 508.28 L473.10 508.33 L474.27 508.39 L475.46 508.45 L476.67 508.50 L477.88 508.56 L479.09 508.61 L480.29 508.66 L481.47 508.72 L482.63 508.76 L483.76 508.81 L484.86 508.86 L485.91 508.90 L486.92 508.94 L487.86 508.98 L488.75 509.02 L489.56 509.06 L490.29 509.09 L490.94 509.12 L491.50 509.14 L491.5 527.3 Z" fill="#ff0000"/>
<path d="M70.70 507.93 L71.25 507.89 L71.90 507.84 L72.63 507.78 L73.44 507.72 L74.32 507.65 L75.27 507.58 L76.27 507.51 L77.32 507.43 L78.41 507.34 L79.53 507.26 L80.68 507.17 L81.83 507.07 L83.00 506.97 L84.17 506.87 L85.32 506.77 L86.46 506.66 L87.58 506.55 L88.66 506.43 L89.70 506.32 L90.73 506.20 L91.77 506.07 L92.83 505.93 L93.90 505.78 L94.98 505.63 L96.07 505.47 L97.16 505.31 L98.24 505.15 L99.33 504.99 L100.41 504.82 L101.48 504.66 L102.54 504.50 L103.58 504.34 L104.61 504.18 L105.62 504.03 L106.61 503.88 L107.57 503.75 L108.50 503.62 L109.40 503.49 L110.67 503.33 L111.88 503.17 L113.05 503.02 L114.18 502.88 L115.27 502.75 L116.33 502.62 L117.36 502.50 L118.38 502.39 L119.38 502.28 L120.36 502.17 L121.34 502.07 L122.32 501.97 L123.30 501.88 L124.45 501.79 L125.58 501.74 L126.70 501.72 L127.79 501.70 L128.86 501.70 L129.92 501.68 L130.96 501.64 L131.99 501.58 L133.01 501.47 L134.01 501.30 L135.00 501.07 L136.07 500.76 L137.11 500.39 L138.13 499.99 L139.13 499.53 L140.12 499.04 L141.10 498.51 L142.07 497.94 L143.04 497.34 L144.02 496.70 L145.00 496.03 L146.10 495.21 L147.19 494.29 L148.28 493.29 L149.36 492.26 L150.45 491.20 L151.53 490.16 L152.62 489.15 L153.71 488.20 L154.80 487.35 L155.90 486.58 L157.00 485.83 L158.10 485.13 L159.20 484.46 L160.30 483.83 L161.40 483.24 L162.50 482.68 L163.60 482.17 L164.70 481.70 L165.75 481.27 L166.75 480.86 L167.71 480.49 L168.67 480.16 L169.66 479.88 L170.70 479.64 L171.84 479.46 L173.10 479.34 L174.50 479.28 L175.31 479.29 L176.17 479.33 L177.07 479.39 L178.00 479.49 L178.97 479.60 L179.96 479.73 L180.98 479.88 L182.01 480.03 L183.06 480.20 L184.13 480.36 L185.20 480.53 L186.27 480.69 L187.33 480.84 L188.40 480.98 L189.45 481.11 L190.48 481.22 L191.50 481.30 L192.52 481.36 L193.55 481.41 L194.61 481.44 L195.67 481.46 L196.74 481.48 L197.81 481.48 L198.89 481.48 L199.96 481.48 L201.02 481.48 L202.06 481.48 L203.09 481.48 L204.10 481.49 L205.09 481.50 L206.05 481.53 L206.97 481.57 L207.85 481.63 L208.70 481.70 L210.05 481.88 L211.31 482.12 L212.48 482.40 L213.59 482.71 L214.64 483.03 L215.65 483.34 L216.63 483.62 L217.59 483.85 L218.54 484.03 L219.50 484.13 L220.69 484.11 L221.83 483.96 L222.94 483.72 L224.02 483.43 L225.06 483.15 L226.07 482.90 L227.05 482.74 L228.00 482.71 L229.15 482.82 L230.16 483.03 L231.11 483.33 L232.09 483.74 L233.19 484.28 L234.50 484.93 L235.41 485.41 L236.39 485.97 L237.43 486.60 L238.52 487.27 L239.64 487.97 L240.78 488.69 L241.93 489.41 L243.08 490.11 L244.20 490.77 L245.30 491.39 L246.37 491.97 L247.44 492.56 L248.51 493.14 L249.58 493.71 L250.65 494.26 L251.72 494.80 L252.79 495.31 L253.86 495.79 L254.93 496.23 L256.00 496.63 L257.08 497.00 L258.16 497.32 L259.24 497.61 L260.32 497.86 L261.40 498.10 L262.48 498.31 L263.56 498.51 L264.64 498.69 L265.72 498.87 L266.80 499.05 L267.85 499.23 L268.85 499.40 L269.83 499.56 L270.81 499.70 L271.79 499.84 L272.81 499.96 L273.87 500.06 L274.99 500.15 L276.20 500.22 L277.50 500.27 L278.39 500.29 L279.35 500.31 L280.36 500.33 L281.43 500.34 L282.53 500.35 L283.66 500.36 L284.80 500.35 L285.95 500.34 L287.09 500.32 L288.22 500.29 L289.31 500.25 L290.37 500.20 L291.38 500.14 L292.33 500.06 L293.21 499.97 L294.00 499.86 L295.51 499.56 L296.70 499.17 L297.67 498.73 L298.53 498.24 L299.38 497.71 L300.33 497.17 L301.50 496.63 L302.45 496.26 L303.45 495.89 L304.50 495.51 L305.59 495.12 L306.70 494.72 L307.83 494.30 L308.96 493.87 L310.09 493.41 L311.21 492.92 L312.30 492.40 L313.38 491.83 L314.45 491.23 L315.53 490.58 L316.61 489.91 L317.68 489.22 L318.75 488.53 L319.82 487.84 L320.89 487.17 L321.95 486.52 L323.00 485.90 L324.06 485.29 L325.14 484.67 L326.23 484.05 L327.31 483.43 L328.39 482.83 L329.44 482.26 L330.47 481.73 L331.46 481.25 L332.41 480.84 L333.30 480.49 L334.63 480.13 L335.79 480.00 L336.86 479.99 L337.90 480.03 L338.99 480.03 L340.20 479.89 L341.21 479.67 L342.28 479.37 L343.39 479.02 L344.52 478.67 L345.65 478.32 L346.76 478.02 L347.81 477.79 L348.80 477.67 L349.98 477.67 L351.04 477.80 L352.05 478.04 L353.06 478.32 L354.12 478.62 L355.30 478.88 L356.27 479.10 L357.30 479.37 L358.37 479.67 L359.47 479.96 L360.58 480.23 L361.70 480.42 L362.81 480.52 L363.90 480.49 L364.98 480.33 L366.05 480.05 L367.13 479.68 L368.21 479.25 L369.28 478.76 L370.36 478.26 L371.43 477.75 L372.50 477.27 L373.59 476.77 L374.70 476.24 L375.83 475.68 L376.94 475.11 L378.04 474.54 L379.09 474.00 L380.08 473.49 L381.00 473.03 L382.28 472.33 L383.37 471.66 L384.37 471.07 L385.38 470.63 L386.50 470.41 L387.50 470.39 L388.52 470.50 L389.56 470.72 L390.65 471.06 L391.79 471.49 L393.00 472.02 L393.98 472.49 L395.03 473.02 L396.13 473.62 L397.25 474.26 L398.37 474.96 L399.47 475.70 L400.52 476.47 L401.50 477.27 L402.67 478.41 L403.74 479.65 L404.74 480.96 L405.75 482.30 L406.82 483.64 L408.00 484.93 L408.96 485.89 L409.95 486.86 L410.98 487.84 L412.04 488.80 L413.13 489.75 L414.25 490.68 L415.41 491.56 L416.60 492.40 L417.58 493.03 L418.59 493.64 L419.63 494.22 L420.70 494.78 L421.78 495.33 L422.87 495.86 L423.97 496.37 L425.08 496.87 L426.19 497.36 L427.30 497.84 L428.31 498.27 L429.32 498.69 L430.33 499.09 L431.36 499.49 L432.38 499.87 L433.42 500.24 L434.46 500.61 L435.51 500.96 L436.56 501.31 L437.63 501.66 L438.70 502.00 L439.68 502.31 L440.67 502.62 L441.65 502.92 L442.63 503.21 L443.62 503.50 L444.62 503.78 L445.64 504.06 L446.67 504.33 L447.71 504.59 L448.78 504.84 L449.88 505.08 L451.00 505.31 L451.93 505.49 L452.90 505.66 L453.89 505.82 L454.92 505.98 L455.96 506.14 L457.01 506.28 L458.06 506.43 L459.12 506.57 L460.17 506.70 L461.21 506.83 L462.23 506.95 L463.23 507.07 L464.19 507.19 L465.12 507.30 L466.00 507.41 L467.23 507.56 L468.37 507.70 L469.43 507.82 L470.44 507.94 L471.42 508.04 L472.40 508.14 L473.41 508.23 L474.46 508.32 L475.58 508.41 L476.80 508.50 L477.76 508.56 L478.82 508.62 L479.96 508.68 L481.14 508.73 L482.36 508.79 L483.60 508.84 L484.83 508.89 L486.02 508.93 L487.17 508.98 L488.26 509.02 L489.25 509.05 L490.14 509.09 L490.89 509.12 L491.50 509.14" fill="none" stroke="#000" stroke-width="1.8" stroke-linejoin="round"/>
<line x1="123.3" y1="426" x2="123.3" y2="527" stroke="#ffffff" stroke-width="1.1"/>
<line x1="123.3" y1="426" x2="123.3" y2="527" stroke="#3f7f9f" stroke-width="1.1" stroke-dasharray="3 3"/>
<line x1="175.9" y1="426" x2="175.9" y2="527" stroke="#ffffff" stroke-width="1.1"/>
<line x1="175.9" y1="426" x2="175.9" y2="527" stroke="#3f7f9f" stroke-width="1.1" stroke-dasharray="3 3"/>
<line x1="228.5" y1="426" x2="228.5" y2="527" stroke="#ffffff" stroke-width="1.1"/>
<line x1="228.5" y1="426" x2="228.5" y2="527" stroke="#3f7f9f" stroke-width="1.1" stroke-dasharray="3 3"/>
<line x1="281.1" y1="426" x2="281.1" y2="527" stroke="#ffffff" stroke-width="1.1"/>
<line x1="281.1" y1="426" x2="281.1" y2="527" stroke="#3f7f9f" stroke-width="1.1" stroke-dasharray="3 3"/>
<line x1="333.7" y1="426" x2="333.7" y2="527" stroke="#ffffff" stroke-width="1.1"/>
<line x1="333.7" y1="426" x2="333.7" y2="527" stroke="#3f7f9f" stroke-width="1.1" stroke-dasharray="3 3"/>
<line x1="386.3" y1="426" x2="386.3" y2="527" stroke="#ffffff" stroke-width="1.1"/>
<line x1="386.3" y1="426" x2="386.3" y2="527" stroke="#3f7f9f" stroke-width="1.1" stroke-dasharray="3 3"/>
<line x1="438.9" y1="426" x2="438.9" y2="527" stroke="#ffffff" stroke-width="1.1"/>
<line x1="438.9" y1="426" x2="438.9" y2="527" stroke="#3f7f9f" stroke-width="1.1" stroke-dasharray="3 3"/>
<text x="96.0" y="434.8" class="cs">TU</text>
<text x="148.6" y="434.8" class="cs">ST</text>
<text x="201.2" y="434.8" class="cs">SN</text>
<text x="253.8" y="434.8" class="cs">NU</text>
<text x="306.4" y="434.8" class="cs">NL</text>
<text x="359.0" y="434.8" class="cs">IN</text>
<text x="411.6" y="434.8" class="cs">IT</text>
<text x="464.2" y="434.8" class="cs">TL</text>
<line x1="70.7" y1="425.8" x2="70.7" y2="527.8" stroke="#000" stroke-width="1.3"/>
<line x1="491.5" y1="425.8" x2="491.5" y2="527.8" stroke="#333" stroke-width="1.3"/>
<line x1="70.7" y1="527.6" x2="491.5" y2="527.6" stroke="#333" stroke-width="1"/>
<line x1="88.2" y1="525.5" x2="88.2" y2="527.6" stroke="#555" stroke-width="1"/>
<line x1="105.8" y1="525.5" x2="105.8" y2="527.6" stroke="#555" stroke-width="1"/>
<line x1="123.3" y1="525.5" x2="123.3" y2="527.6" stroke="#555" stroke-width="1"/>
<line x1="140.8" y1="525.5" x2="140.8" y2="527.6" stroke="#555" stroke-width="1"/>
<line x1="158.4" y1="525.5" x2="158.4" y2="527.6" stroke="#555" stroke-width="1"/>
<line x1="175.9" y1="525.5" x2="175.9" y2="527.6" stroke="#555" stroke-width="1"/>
<line x1="193.4" y1="525.5" x2="193.4" y2="527.6" stroke="#555" stroke-width="1"/>
<line x1="211.0" y1="525.5" x2="211.0" y2="527.6" stroke="#555" stroke-width="1"/>
<line x1="228.5" y1="525.5" x2="228.5" y2="527.6" stroke="#555" stroke-width="1"/>
<line x1="246.0" y1="525.5" x2="246.0" y2="527.6" stroke="#555" stroke-width="1"/>
<line x1="263.6" y1="525.5" x2="263.6" y2="527.6" stroke="#555" stroke-width="1"/>
<line x1="281.1" y1="525.5" x2="281.1" y2="527.6" stroke="#555" stroke-width="1"/>
<line x1="298.6" y1="525.5" x2="298.6" y2="527.6" stroke="#555" stroke-width="1"/>
<line x1="316.2" y1="525.5" x2="316.2" y2="527.6" stroke="#555" stroke-width="1"/>
<line x1="333.7" y1="525.5" x2="333.7" y2="527.6" stroke="#555" stroke-width="1"/>
<line x1="351.2" y1="525.5" x2="351.2" y2="527.6" stroke="#555" stroke-width="1"/>
<line x1="368.8" y1="525.5" x2="368.8" y2="527.6" stroke="#555" stroke-width="1"/>
<line x1="386.3" y1="525.5" x2="386.3" y2="527.6" stroke="#555" stroke-width="1"/>
<line x1="403.8" y1="525.5" x2="403.8" y2="527.6" stroke="#555" stroke-width="1"/>
<line x1="421.4" y1="525.5" x2="421.4" y2="527.6" stroke="#555" stroke-width="1"/>
<line x1="438.9" y1="525.5" x2="438.9" y2="527.6" stroke="#555" stroke-width="1"/>
<line x1="456.4" y1="525.5" x2="456.4" y2="527.6" stroke="#555" stroke-width="1"/>
<line x1="474.0" y1="525.5" x2="474.0" y2="527.6" stroke="#555" stroke-width="1"/>
<line x1="70.7" y1="527.3" x2="75.2" y2="527.3" stroke="#000" stroke-width="1.2"/>
<line x1="70.7" y1="507.1" x2="73.2" y2="507.1" stroke="#000" stroke-width="1.2"/>
<line x1="70.7" y1="486.9" x2="75.2" y2="486.9" stroke="#000" stroke-width="1.2"/>
<line x1="70.7" y1="466.8" x2="73.2" y2="466.8" stroke="#000" stroke-width="1.2"/>
<line x1="70.7" y1="446.6" x2="75.2" y2="446.6" stroke="#000" stroke-width="1.2"/>
<text x="63.8" y="530.9" class="ya">0</text>
<text x="63.8" y="490.5" class="ya">100</text>
<text x="63.8" y="450.2" class="ya">200</text>
<text x="70.7" y="544.6" class="xa">T</text>
<text x="175.9" y="544.6" class="xa">S</text>
<text x="281.1" y="544.6" class="xa">N</text>
<text x="386.3" y="544.6" class="xa">I</text>
<text x="491.5" y="544.6" class="xa">T</text>
</svg>
</body></html>
